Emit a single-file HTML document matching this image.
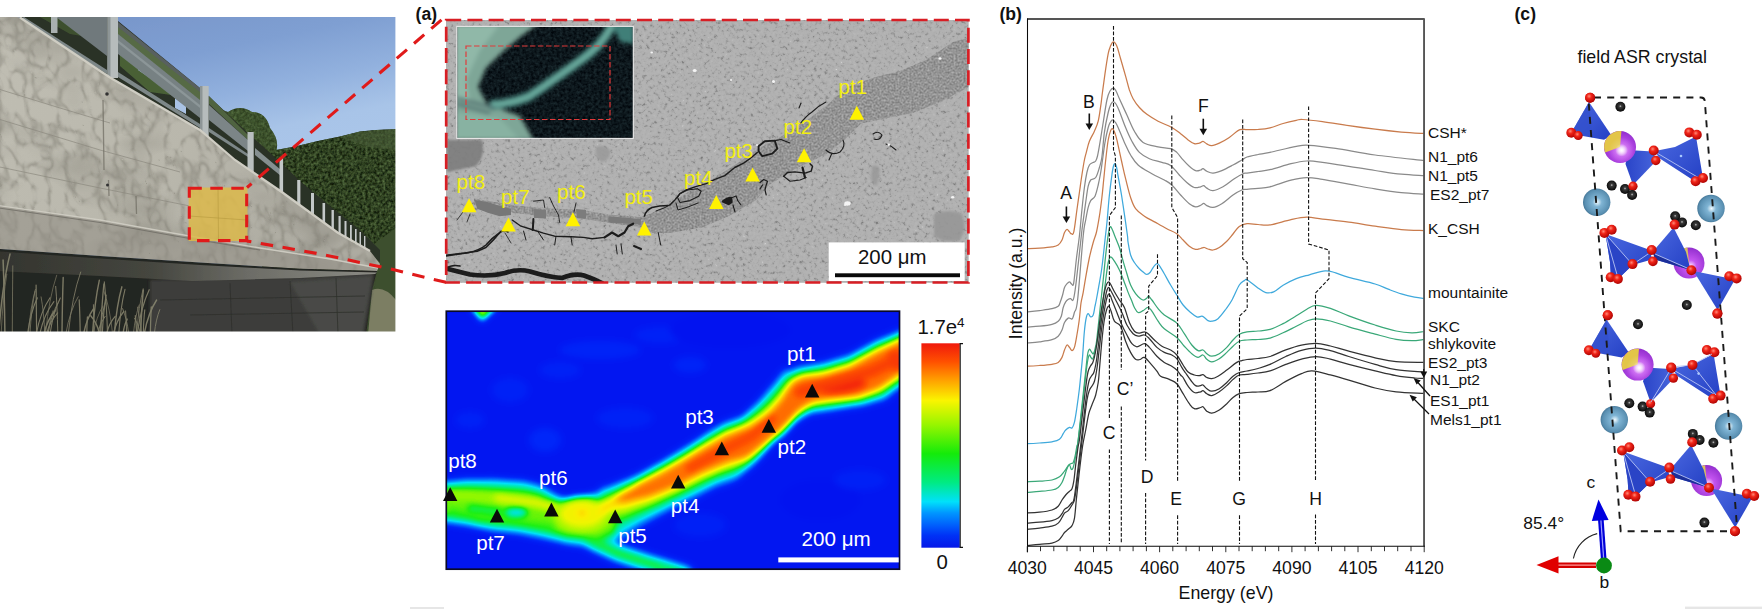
<!DOCTYPE html>
<html lang="en"><head><meta charset="utf-8"><title>Figure</title>
<style>html,body{margin:0;padding:0;background:#fff;overflow:hidden}svg{display:block}text{font-family:"Liberation Sans",sans-serif}</style></head><body>
<svg width="1762" height="609" viewBox="0 0 1762 609">
<rect width="1762" height="609" fill="#fff"/>
<defs>
<clipPath id="phclip"><rect x="0" y="17" width="395.4" height="314.5"/></clipPath>
<linearGradient id="sky" x1="0.25" y1="0" x2="0.5" y2="1"><stop offset="0" stop-color="#7795c9"/><stop offset="0.18" stop-color="#7f9fd2"/><stop offset="0.32" stop-color="#92b1de"/><stop offset="0.44" stop-color="#a8c4e8"/><stop offset="1" stop-color="#b5cef0"/></linearGradient>
<linearGradient id="conc" x1="0" y1="0" x2="1" y2="0.4"><stop offset="0" stop-color="#c0beb3"/><stop offset="0.6" stop-color="#b9b7ac"/><stop offset="1" stop-color="#adaba1"/></linearGradient>
<linearGradient id="under" x1="0" y1="0" x2="0" y2="1"><stop offset="0" stop-color="#77776f"/><stop offset="0.25" stop-color="#55554f"/><stop offset="0.5" stop-color="#2c2d2a"/><stop offset="1" stop-color="#232422"/></linearGradient>
<filter id="conctex" x="0" y="0" width="100%" height="100%" color-interpolation-filters="sRGB">
 <feTurbulence type="turbulence" baseFrequency="0.06 0.045" numOctaves="2" seed="4" result="n"/>
 <feComponentTransfer in="n" result="g"><feFuncR type="table" tableValues="1 0.6 0.18 0 0 0 0 0 0 0"/></feComponentTransfer>
 <feColorMatrix in="g" type="matrix" values="0 0 0 0 0.47  0 0 0 0 0.46  0 0 0 0 0.42  0.46 0 0 0 0" result="gg"/>
 <feComposite in="gg" in2="SourceGraphic" operator="in"/>
</filter>
<filter id="blotch" x="0" y="0" width="100%" height="100%" color-interpolation-filters="sRGB">
 <feTurbulence type="fractalNoise" baseFrequency="0.012 0.02" numOctaves="3" seed="12" result="n"/>
 <feColorMatrix in="n" type="matrix" values="0 0 0 0 0.44  0 0 0 0 0.43  0 0 0 0 0.39  0.8 0 0 0 -0.36" result="gg"/>
 <feComposite in="gg" in2="SourceGraphic" operator="in"/>
</filter>
<filter id="treetex" x="0" y="0" width="100%" height="100%" color-interpolation-filters="sRGB">
 <feTurbulence type="fractalNoise" baseFrequency="0.35" numOctaves="2" seed="9" result="n"/>
 <feColorMatrix in="n" type="matrix" values="0.5 0 0 0 -0.06  0.6 0 0 0 -0.04  0.4 0 0 0 -0.07  0 0 0 0 1" result="gg"/>
 <feComposite in="gg" in2="SourceGraphic" operator="in"/>
</filter>
<filter id="pb"><feGaussianBlur stdDeviation="0.7"/></filter>
<filter id="pb2"><feGaussianBlur stdDeviation="1.6"/></filter>
</defs>
<g clip-path="url(#phclip)"><g filter="url(#pb)">
<rect x="-5" y="10" width="405" height="330" fill="url(#sky)"/>
<path d="M262,150 L276,150 L295,146.5 L318,141 L340,136.5 L360,131.5 L376,130 L400,129 L400,290 L262,290 Z" fill="#2e3f27"/>
<path d="M262,150 L276,150 L295,146.5 L318,141 L340,136.5 L360,131.5 L376,130 L400,129 L400,290 L262,290 Z" fill="#2e3f27" filter="url(#treetex)" opacity="0.85"/>
<path d="M340,137 L360,132 L376,130.5 L400,129.5 L400,150 Q370,150 340,137 Z" fill="#4a5e38" opacity="0.6"/>
<path d="M366,250 L400,225 L400,335 L360,335 Z" fill="#3d4f2e"/>
<path d="M372,290 Q384,285 396,300 L396,335 L368,335 Z" fill="#8c8a72" opacity="0.8"/>
<path d="M205,118 Q215,106 228,112 Q240,104 252,112 Q266,112 270,128 Q280,140 276,152 L240,160 L205,140 Z" fill="#4a6238"/>
<path d="M205,118 Q215,106 228,112 Q240,104 252,112 Q266,112 270,128 Q280,140 276,152 L240,160 L205,140 Z" fill="#4a6238" filter="url(#treetex)" opacity="0.5"/>
<path d="M20,10 L110,10 L118,21 L200,88 L248,133 L278,160 L300,181 L330,206 L360,230 L380,250 L380,262 L355,243.7 L337.5,232.5 L312.5,213.7 L282.5,192.5 L252,172.5 L235,160 L200,130 L110,77.5 L20,17.5 Z" fill="#2a3026"/>
<path d="M120,40 L160,62 L178,96 L150,92 L120,66 Z" fill="#4e6a3a" opacity="0.85"/>
<path d="M40,17 L90,17 L104,40 L70,34 Z" fill="#3f5630" opacity="0.85"/>
<path d="M82,17 L92,17 L98,30 L88,28 Z M138,60 L150,68 L150,78 L138,70 Z M175,98 L186,106 L186,114 L175,108 Z" fill="#a9c2e4"/>
<path d="M56,17 L107,17 L107,56 Z" fill="#6f797b"/>
<path d="M118,24 L200,91 L200,101 L118,36 Z" fill="#566a45"/>
<path d="M118,34 L200,100 L200,118 L118,54 Z" fill="#778183"/>
<path d="M118,40 L200,105 L200,108 L118,43 Z" fill="#8c9698"/>
<path d="M118,22 L200,88 L200,92 L118,27 Z" fill="#59605f"/>
<path d="M209,96 L248,135 L248,140 L209,104 Z" fill="#4f6340"/>
<path d="M209,105 L248,140 L248,151 L209,120 Z" fill="#7b8587"/>
<path d="M255,148 L281,170 L281,176 L255,155 Z" fill="#858f90"/>
<path d="M24,17 L107,70 L107,74 L20,19 Z" fill="#7d8788"/>
<path d="M118,72 L200,124 L200,128 L118,77 Z" fill="#7d8788"/>
<path d="M209,128 L248,154 L248,157 L209,132 Z" fill="#7d8788"/>
<rect x="107.5" y="17" width="10.5" height="61" fill="#b6bcbc"/><rect x="107.5" y="17" width="3" height="61" fill="#8d9596"/>
<rect x="51" y="17" width="6.5" height="16" fill="#a9b0b0"/>
<rect x="200" y="86" width="8.7" height="55" fill="#b6bcbc"/><rect x="200" y="86" width="2.5" height="55" fill="#8d9596"/>
<rect x="247.5" y="132" width="6.2" height="40" fill="#b9bfbf"/>
<rect x="279.5" y="158" width="3.6" height="37" fill="#c3c8c8"/>
<rect x="297.2" y="180" width="3.2" height="27" fill="#c3c8c8"/>
<rect x="311" y="193" width="3" height="23" fill="#c3c8c8"/>
<rect x="322.5" y="203" width="2.6" height="20" fill="#c3c8c8"/>
<rect x="331.5" y="210" width="2.4" height="19" fill="#c3c8c8"/>
<rect x="338.5" y="216" width="2.2" height="18" fill="#c3c8c8"/>
<rect x="344.5" y="221" width="2" height="17" fill="#c3c8c8"/>
<rect x="350" y="225" width="1.8" height="17" fill="#c3c8c8"/>
<rect x="355" y="229" width="1.6" height="16" fill="#c3c8c8"/>
<rect x="359.5" y="232" width="1.5" height="16" fill="#c3c8c8"/>
<rect x="364" y="236" width="1.4" height="15" fill="#c3c8c8"/>
<path d="M-5,14 L20,17.5 L110,77.5 L200,130 L235,160 L252,172.5 L282.5,192.5 L312.5,213.7 L337.5,232.5 L355,243.7 L370,251 L380,264 L377,271 L300,268.7 L200,262.5 L100,256 L-5,248.5 Z" fill="url(#conc)"/>
<clipPath id="wallclip"><path d="M-5,14 L20,17.5 L110,77.5 L200,130 L235,160 L252,172.5 L282.5,192.5 L312.5,213.7 L337.5,232.5 L355,243.7 L370,251 L380,264 L377,271 L300,268.7 L200,262.5 L100,256 L-5,248.5 Z"/></clipPath>
<g clip-path="url(#wallclip)"><rect x="-10" y="-120" width="420" height="420" fill="#000" filter="url(#blotch)"/><rect x="-10" y="-120" width="420" height="420" fill="#000" filter="url(#conctex)" transform="skewY(16)"/></g>
<path d="M20,17.5 L110,77.5 L200,130 L235,160 L282.5,192.5 L337.5,232.5 L370,251" fill="none" stroke="#cfcdc3" stroke-width="2.2"/>
<path d="M-5,205 L100,220 L175,233.5 L260,248 L330,259 L378,268 L377,271 L300,268.7 L200,262.5 L100,256 L-5,248.5 Z" fill="#8f8d84" opacity="0.55"/>
<path d="M-5,205 L100,220 L175,233.5 L260,248 L330,259 L378,268" fill="none" stroke="#d0cec4" stroke-width="1.3" opacity="0.9"/>
<path d="M-5,207.5 L100,222.5 L175,236 L260,250" fill="none" stroke="#6e6c64" stroke-width="1.1" opacity="0.8"/>
<path d="M-5,88 L60,108 L110,123 M-5,118 L100,150 L180,172 M-5,166 L100,188 L190,206" fill="none" stroke="#8b897f" stroke-width="1" opacity="0.7"/>
<path d="M103,100 L104,170 M108.5,180 L109,196 M136,196 L136.5,214" fill="none" stroke="#6c6a60" stroke-width="1.3" opacity="0.7"/>
<circle cx="107" cy="94" r="1.8" fill="#333"/><circle cx="107.5" cy="185" r="1.5" fill="#333"/>
<path d="M-5,248.5 L100,256 L200,262.5 L300,268.7 L377,271 L372,290 L366,335 L-5,335 Z" fill="#242521"/>
<path d="M150,280 L300,277 L374,273 L370,300 L364,335 L150,335 Z" fill="#3c3d3a" filter="url(#pb2)"/>
<path d="M290,282 L372,276 L368,300 L362,335 L320,335 Z" fill="#4c4d49" opacity="0.8" filter="url(#pb2)"/>
<defs><linearGradient id="soff" gradientUnits="userSpaceOnUse" x1="0" y1="0" x2="380" y2="0"><stop offset="0" stop-color="#34352f"/><stop offset="0.4" stop-color="#45463f"/><stop offset="0.65" stop-color="#6c6c66"/><stop offset="1" stop-color="#8c8c85"/></linearGradient></defs>
<path d="M-5,251 L100,258.5 L200,265 L300,270.5 L377,272.5 L375,274 L300,278 L192,281 L100,276 L-5,271 Z" fill="url(#soff)"/>
<path d="M160,300 L365,296 M190,315 L364,312 M230,283 L232,335 M290,281 L293,335 M336,278 L338,335" stroke="#2c2d2a" stroke-width="1" fill="none" opacity="0.7"/>
<g fill="none" stroke="#918f76" stroke-linecap="round" opacity="0.8">
<path d="M36.6,333 Q36.4,304.2 36.1,285.0" stroke-width="1.2"/>
<path d="M99.4,333 Q96.8,322.6 90.7,315.7" stroke-width="1.4"/>
<path d="M40.0,333 Q44.2,314.2 53.9,301.7" stroke-width="1.1"/>
<path d="M133.5,333 Q135.2,316.2 139.2,304.9" stroke-width="0.8"/>
<path d="M100.8,333 Q101.8,303.5 103.9,283.8" stroke-width="1.3"/>
<path d="M106.8,333 Q109.3,323.0 115.2,316.4" stroke-width="1.2"/>
<path d="M46.8,333 Q50.1,320.9 57.7,312.9" stroke-width="1.1"/>
<path d="M114.4,333 Q116.7,305.3 121.9,286.8" stroke-width="1.4"/>
<path d="M62.0,333 Q62.4,299.7 63.2,277.4" stroke-width="1.4"/>
<path d="M140.4,333 Q138.6,324.1 134.5,318.2" stroke-width="0.9"/>
<path d="M154.4,333 Q156.0,319.0 159.8,309.6" stroke-width="0.9"/>
<path d="M80.2,333 Q79.9,313.1 79.2,299.9" stroke-width="1.2"/>
<path d="M92.6,333 Q94.7,301.4 99.3,280.3" stroke-width="1.4"/>
<path d="M136.7,333 Q138.7,306.4 143.2,288.7" stroke-width="0.8"/>
<path d="M137.4,333 Q141.0,307.0 149.2,289.7" stroke-width="1.2"/>
<path d="M113.6,333 Q116.7,320.1 123.8,311.5" stroke-width="1.2"/>
<path d="M44.2,333 Q47.4,319.8 54.8,311.0" stroke-width="1.5"/>
<path d="M12.3,333 Q12.5,292.7 12.8,265.8" stroke-width="0.8"/>
<path d="M45.6,333 Q48.9,298.3 56.7,275.2" stroke-width="0.7"/>
<path d="M97.6,333 Q99.8,323.0 105.1,316.3" stroke-width="1.0"/>
<path d="M140.7,333 Q141.5,307.2 143.3,290.1" stroke-width="1.5"/>
<path d="M48.2,333 Q49.6,319.6 53.0,310.7" stroke-width="0.7"/>
<path d="M30.0,333 Q31.5,307.9 35.0,291.2" stroke-width="0.8"/>
<path d="M4.9,333 Q4.3,289.3 3.1,260.1" stroke-width="1.5"/>
<path d="M143.3,333 Q143.7,319.0 144.8,309.7" stroke-width="1.1"/>
<path d="M102.3,333 Q103.5,310.2 106.2,295.0" stroke-width="1.2"/>
<path d="M150.4,333 Q150.7,317.3 151.3,306.9" stroke-width="1.3"/>
<path d="M36.5,333 Q40.5,311.9 50.0,297.8" stroke-width="1.1"/>
<path d="M86.8,333 Q87.0,323.3 87.4,316.9" stroke-width="1.2"/>
<path d="M1.2,333 Q2.9,297.8 6.8,274.3" stroke-width="0.7"/>
<path d="M99.6,333 Q101.6,313.0 106.3,299.6" stroke-width="1.0"/>
<path d="M112.5,333 Q110.0,308.1 104.0,291.6" stroke-width="0.7"/>
<path d="M107.5,333 Q106.5,302.3 104.3,281.8" stroke-width="1.1"/>
<path d="M94.0,333 Q93.8,316.0 93.4,304.7" stroke-width="1.0"/>
<path d="M57.8,333 Q57.2,305.0 55.7,286.4" stroke-width="1.0"/>
<path d="M123.1,333 Q124.3,324.6 127.2,319.1" stroke-width="1.3"/>
<path d="M48.2,333 Q51.1,315.2 57.7,303.3" stroke-width="0.9"/>
<path d="M28.4,333 Q30.5,306.9 35.4,289.4" stroke-width="0.8"/>
<path d="M50.2,333 Q53.2,312.0 60.3,298.0" stroke-width="1.1"/>
<path d="M136.6,333 Q136.2,322.5 135.3,315.5" stroke-width="1.2"/>
<path d="M141.4,333 Q140.2,317.4 137.5,307.1" stroke-width="0.8"/>
<path d="M83.8,333 Q86.7,318.5 93.4,308.9" stroke-width="1.4"/>
<path d="M27.7,333 Q30.6,311.9 37.3,297.9" stroke-width="1.2"/>
<path d="M128.6,333 Q126.8,318.4 122.6,308.6" stroke-width="0.9"/>
<path d="M126.6,333 Q126.3,319.7 125.6,310.9" stroke-width="1.0"/>
<path d="M66.0,333 Q69.7,311.2 78.2,296.7" stroke-width="0.8"/>
<path d="M-1.2,333 Q2.1,285.6 10.0,254.1" stroke-width="1.5"/>
<path d="M68.4,333 Q72.1,296.4 80.7,272.0" stroke-width="0.9"/>
<path d="M118.8,333 Q120.6,306.8 125.0,289.4" stroke-width="1.1"/>
<path d="M44.8,333 Q43.7,311.3 41.1,296.9" stroke-width="0.8"/>
<path d="M93.4,333 Q96.3,316.8 103.0,306.0" stroke-width="0.7"/>
<path d="M144.4,333 Q148.1,313.2 156.6,300.0" stroke-width="1.4"/>
</g>
</g>
<rect x="188.7" y="187.5" width="58.8" height="53.5" fill="#dcb94c" opacity="0.86"/>
<path d="M218,188 L218.5,241 M189,216 L247,220" stroke="#b59a3e" stroke-width="1" opacity="0.6" fill="none"/>
</g>
<rect x="189.3" y="188.2" width="57.4" height="52.4" fill="none" stroke="#e01a1a" stroke-width="3.1" stroke-dasharray="12.5 8.5"/>
<path d="M441.5,19.8 L247,187.5" stroke="#e01a1a" stroke-width="3.1" stroke-dasharray="13.5 9.3" fill="none"/>
<path d="M446,282.2 L430,278.7 L390,268.8 L320,254 L247,241" stroke="#e01a1a" stroke-width="3.1" stroke-dasharray="12.5 9.6" fill="none"/>
<defs>
<filter id="semtex" x="0" y="0" width="100%" height="100%" color-interpolation-filters="sRGB">
 <feTurbulence type="fractalNoise" baseFrequency="0.28" numOctaves="3" seed="7" result="n"/>
 <feComponentTransfer in="n" result="g"><feFuncR type="table" tableValues="0.44 0.48 0.54 0.62 0.675 0.695 0.70 0.705 0.72 0.78 0.9"/></feComponentTransfer>
 <feColorMatrix in="g" type="matrix" values="1 0 0 0 0  1 0 0 0 0  1 0 0 0 0  0 0 0 0 1" result="gg"/>
 <feComposite in="gg" in2="SourceGraphic" operator="in"/>
</filter>
<filter id="veintex" x="0" y="0" width="100%" height="100%" color-interpolation-filters="sRGB">
 <feTurbulence type="fractalNoise" baseFrequency="0.5" numOctaves="2" seed="11" result="n"/>
 <feColorMatrix in="n" type="matrix" values="0.34 0 0 0 0.41  0.34 0 0 0 0.41  0.34 0 0 0 0.41  0 0 0 0 1" result="gg"/>
 <feComposite in="gg" in2="SourceGraphic" operator="in"/>
</filter>
<filter id="insettex" x="0" y="0" width="100%" height="100%" color-interpolation-filters="sRGB">
 <feTurbulence type="fractalNoise" baseFrequency="0.35" numOctaves="2" seed="5" result="n"/>
 <feColorMatrix in="n" type="matrix" values="0.16 0 0 0 -0.03  0.22 0 0 0 -0.02  0.22 0 0 0 0.0  0 0 0 0 1" result="gg"/>
 <feComposite in="gg" in2="SourceGraphic" operator="in"/>
</filter>
<filter id="b1"><feGaussianBlur stdDeviation="1"/></filter>
<filter id="b2"><feGaussianBlur stdDeviation="2.2"/></filter>
<filter id="b05"><feGaussianBlur stdDeviation="0.5"/></filter>
<clipPath id="semclip"><rect x="446" y="20" width="522.4" height="262.5"/></clipPath>
<clipPath id="insclip"><rect x="457.3" y="26.8" width="175.6" height="111.2"/></clipPath>
</defs>
<g clip-path="url(#semclip)">
<rect x="446" y="20" width="523" height="263" fill="#a9a9a9"/>
<rect x="446" y="20" width="523" height="263" fill="#a9a9a9" filter="url(#semtex)"/>
<g filter="url(#b1)" opacity="0.9">
<path d="M934,214 Q948,208 962,214 Q968,228 960,240 Q944,244 934,236 Z" fill="#979797"/>
<path d="M872,166 Q878,164 880,170 L877,186 Q871,184 871,176 Z" fill="#9a9a9a"/>
<path d="M596,147 Q604,144 610,150 Q611,160 602,162 Q594,158 596,147 Z" fill="#9b9b9b"/>
<path d="M447,140 L482,140 Q486,155 476,166 L447,172 Z" fill="#7d7d7d"/>
</g>
<path d="M969,38 L953,42 L926,60 L900,71 L874,77.5 L848,87 L827,105 L803,123.5 L777,139 L756,150 L737,163.6 L716,177 L700,186 L690,191 L670,203 L650,214 L640,217 L609,214.5 L581,210 L541,208 L515,205.5 L489,201 L474,198.5 L474,205 L489,208.5 L515,213 L541,216 L581,218.5 L609,223 L640,227 L652,233 L670,233 L690,229.5 L703,227 L729,216 L756,200 L769,185 L795,169 L816,159 L832,150 L848,136.6 L861,123.5 L887,118 L913,113 L940,102 L969,87 Z" fill="#8c8c8c" filter="url(#veintex)"/>
<g filter="url(#b05)"><path d="M474.7,200 L487.2,201.9 L501,206.2 L511,208.7 L511,215 L499.7,216.2 L487.2,212.5 L477.2,208.7 Z" fill="#777"/><path d="M533.5,209 L546,210 L546,218.5 L534,218 Z" fill="#7b7b7b"/><path d="M576,209 L586,210 L586,218.5 L577,218 Z" fill="#7b7b7b"/><path d="M608.4,216.2 L640.9,219 L640.9,224.5 L608.4,222.5 Z" fill="#7a7a7a"/></g>
<g fill="none" stroke="#1c1c1c" stroke-linecap="round" stroke-linejoin="round" filter="url(#b05)">
<path d="M446,268.5 Q460,272 470,274.5 Q490,277 505,273 Q518,268.5 530,271.5 Q548,277 562,278 Q575,273 584,275.5 Q594,279 602,283" stroke-width="4.6"/>
<path d="M446,256 Q458,254 468,252.8 Q480,250 486,245 Q492,238 500,232.5 Q504,229 508,232" stroke-width="1.6"/>
<path d="M446,268.5 Q452,264 460,266" stroke-width="1.5"/>
<path d="M512.2,220 L521,226.2 L533.4,230 L543.4,233.1 L554.6,236.2 L570.9,236.8 L583.3,237.4 L592.1,238.7 L604.6,237.4" stroke-width="1.4"/>
<path d="M604.6,237.4 L612,232.5 L618.3,236.2 L624.5,232.5 L628.2,226.2 L633.2,223.7" stroke-width="2.2"/>
<path d="M533.4,219 L532.8,230" stroke-width="2"/>
<path d="M500.9,231.2 L493.4,240 L485.9,247.5 L477.2,251.2 L464.7,253.1 L446,255.3" stroke-width="1.5"/>
<path d="M644.5,216 Q646,210 652,207.5 Q659,205.5 668,205.5" stroke-width="1.6"/>
<path d="M658.2,232.5 L660.7,245 M523.5,231 L526,240 M538.5,232.5 L543.5,240 M556,236.2 L554.7,245 M571,237.5 L572.2,245 M616,245 L617.2,254 M621,244 L622.3,254" stroke-width="1"/>
<path d="M533.5,201.2 L543.5,200 L544.7,207.5 M549.7,197.5 L553.5,206 L558.5,215 L559.7,222.5 M576,203 L574,212" stroke-width="0.9"/>
<path d="M463,212 L457,220 M470,214 L467,222 M505,233 L511,243" stroke-width="0.8"/>
<path d="M634,246 L641,249" stroke-width="2"/>
<path d="M669.9,204.9 L674.9,199.9 L679.9,193.7 L686.1,190 L694.9,186.8 L706.1,183.7 L714.9,179.3 L724.8,175.6 L734.8,167.5 L743.6,163.1 L749.8,158.7 L757.3,152.5" stroke-width="1.4"/>
<path d="M758.6,146.2 L764.8,141.2 L774.8,140.6 L777.3,148.7 L772.3,153.7 L762.3,156.2 L758.6,151.2 Z" stroke-width="1.9"/>
<path d="M774.8,140.6 L781,139.5 L786,141.5 L790,143" stroke-width="1.2"/>
<path d="M679.9,193.7 L687.5,190 L697.5,188.7 L701.2,191.2 L698.7,196.2 L690,200.6 L680,202.5 L677.5,197.5 Z" stroke-width="1.1"/>
<path d="M669.9,204.9 L664,208 L656,211 M676,203 L678,210 L688,207 L698,203" stroke-width="1"/>
<path d="M723,201.5 Q727,198 731,198 L731.5,202 L728.5,204 Z" stroke-width="2.4" fill="#1c1c1c"/>
<path d="M731,198 L736,196 L738,201 L741,205 M733,205 L735,212" stroke-width="1.1"/>
<path d="M760,182.5 L763.7,179.5 L767.5,181.2 L766.2,185 L765,190 L766.2,195 M762.5,185 L760,189" stroke-width="1.2"/>
<path d="M783.7,176.2 L787.5,172.5 L795,171.9 L805,173.1 L811.2,171.2 L812.5,166.2 L810,163.7" stroke-width="1.4"/>
<path d="M783.7,176.2 L790,181.2 L800,180 L806.2,177.5" stroke-width="1.1"/>
<path d="M802.5,167.5 L805,177.5" stroke-width="2.2"/>
<path d="M826,150 Q832,156 840,152 Q846,146 843,140 M832,153 L829,160" stroke-width="1.1"/>
<path d="M800,124 Q806,116 812,112 Q818,106 826,102 M799,108 L801,103" stroke-width="1.1"/>
<path d="M873,134 Q878,130 882,135 Q880,141 874,139 M886,144 Q892,146 896,150" stroke-width="1.1"/>
</g>
<ellipse cx="847.5" cy="203.5" rx="3.2" ry="2.2" fill="#f4f4f4"/>
<ellipse cx="694.7" cy="70.5" rx="2" ry="1.5" fill="#f4f4f4"/>
<ellipse cx="773.5" cy="81.5" rx="1.5" ry="1.5" fill="#f4f4f4"/>
<ellipse cx="940" cy="58.5" rx="1.5" ry="1.2" fill="#f4f4f4"/>
<ellipse cx="888.8" cy="144.8" rx="1.3" ry="1.3" fill="#f4f4f4"/>
<ellipse cx="952.7" cy="197.3" rx="1.6" ry="1.2" fill="#f4f4f4"/>
<ellipse cx="651.7" cy="52.5" rx="1.3" ry="1.1" fill="#f4f4f4"/>
<ellipse cx="845" cy="205" rx="1" ry="1" fill="#f4f4f4"/>
<ellipse cx="757" cy="145" rx="1" ry="1" fill="#f4f4f4"/>
<ellipse cx="731" cy="80" rx="1" ry="1" fill="#f4f4f4"/>
<g clip-path="url(#insclip)">
<rect x="457" y="26" width="177" height="113" fill="#0d1a20"/>
<rect x="457" y="26" width="177" height="113" fill="#0d1a20" filter="url(#insettex)"/>
<g filter="url(#b2)">
<path d="M455,24 L538,24 L520,37 L502,52.5 L486,68 L478,87 L487,104 L520,116 L533.5,140 L455,140 Z" fill="#7ea697"/>
<path d="M455,24 L500,24 L480,50 L466,80 L470,100 L455,100 Z" fill="#9cc4b4" opacity="0.6"/>
<path d="M455,112 L500,118 L520,140 L455,140 Z" fill="#8db8a6" opacity="0.7"/>
<path d="M490,105 Q510,104 528,97 Q545,86 555,78.5 Q570,68 581,60 Q592,52 599,44.5 Q607,35 613,24" fill="none" stroke="#3d7a74" stroke-width="10"/>
<path d="M490,105 Q510,104 528,97 Q545,86 555,78.5 Q570,68 581,60 Q592,52 599,44.5 Q607,35 613,24" fill="none" stroke="#6cab9e" stroke-width="5"/>
<path d="M612,24 L634,24 L634,44 L620,42 Z" fill="#3f7f78"/>
<path d="M457,98 Q475,103 495,108 M457,104 Q475,109 490,113" fill="none" stroke="#39505c" stroke-width="2.2"/>
</g>
<rect x="466" y="46" width="144" height="73.5" fill="none" stroke="#e23a3a" stroke-width="1.2" stroke-dasharray="5.5 2.5"/>
</g>
<rect x="456.8" y="26.4" width="176.5" height="112" fill="none" stroke="#e8e8e8" stroke-width="1.1"/>
<rect x="828.7" y="242.4" width="136" height="38.6" fill="#fff"/>
<text x="892.2" y="263.8" font-size="20.4" text-anchor="middle" font-family="Liberation Sans, sans-serif" fill="#111">200 μm</text>
<rect x="835" y="273.3" width="125" height="3.9" fill="#0a0a0a"/>
</g>
<path d="M856.8,105.7 l7.3,14 h-14.6 Z" fill="#fff200"/>
<path d="M804.1,148.3 l7.3,14 h-14.6 Z" fill="#fff200"/>
<path d="M752.6,167.6 l7.3,14 h-14.6 Z" fill="#fff200"/>
<path d="M716.3,195.1 l7.3,14 h-14.6 Z" fill="#fff200"/>
<path d="M644.3,221.6 l7.3,14 h-14.6 Z" fill="#fff200"/>
<path d="M572.9,212.3 l7.3,14 h-14.6 Z" fill="#fff200"/>
<path d="M508.5,217.6 l7.3,14 h-14.6 Z" fill="#fff200"/>
<path d="M469.1,198.2 l7.3,14 h-14.6 Z" fill="#fff200"/>
<text x="838.6" y="94.2" font-size="20.6" font-family="Liberation Sans, sans-serif" fill="#f2ee10">pt1</text>
<text x="783.6" y="133.6" font-size="20.6" font-family="Liberation Sans, sans-serif" fill="#f2ee10">pt2</text>
<text x="724.4" y="157.6" font-size="20.6" font-family="Liberation Sans, sans-serif" fill="#f2ee10">pt3</text>
<text x="684" y="184.6" font-size="20.6" font-family="Liberation Sans, sans-serif" fill="#f2ee10">pt4</text>
<text x="624.4" y="203.6" font-size="20.6" font-family="Liberation Sans, sans-serif" fill="#f2ee10">pt5</text>
<text x="557" y="199.4" font-size="20.6" font-family="Liberation Sans, sans-serif" fill="#f2ee10">pt6</text>
<text x="501" y="204.4" font-size="20.6" font-family="Liberation Sans, sans-serif" fill="#f2ee10">pt7</text>
<text x="456.6" y="188.5" font-size="20.6" font-family="Liberation Sans, sans-serif" fill="#f2ee10">pt8</text>
<rect x="446.2" y="20" width="522.2" height="262.5" fill="none" stroke="#d81e24" stroke-width="2.7" stroke-dasharray="15 6.2"/>
<text x="415.6" y="19.6" font-size="17.6" font-weight="bold" font-family="Liberation Sans, sans-serif" fill="#111">(a)</text>
<defs>
<filter id="jet" x="0" y="0" width="100%" height="100%" color-interpolation-filters="sRGB">
<feGaussianBlur stdDeviation="3.4"/>
<feComponentTransfer><feFuncR type="table" tableValues="0.016 0.013 0.009 0.006 0.003 0.000 0.000 0.000 0.000 0.000 0.000 0.000 0.000 0.000 0.000 0.000 0.000 0.000 0.000 0.000 0.000 0.000 0.029 0.059 0.088 0.118 0.235 0.353 0.471 0.588 0.675 0.763 0.850 0.937 0.982 0.986 0.989 0.993 0.996 1.000 1.000 1.000 1.000 1.000 1.000 0.992 0.983 0.975 0.966 0.958 0.949"/><feFuncG type="table" tableValues="0.039 0.063 0.086 0.110 0.133 0.157 0.216 0.275 0.333 0.392 0.451 0.510 0.584 0.659 0.733 0.808 0.882 0.893 0.903 0.913 0.923 0.933 0.935 0.937 0.939 0.941 0.949 0.957 0.965 0.973 0.970 0.967 0.965 0.962 0.932 0.875 0.818 0.761 0.704 0.647 0.584 0.522 0.459 0.396 0.333 0.296 0.259 0.222 0.184 0.147 0.110"/><feFuncB type="table" tableValues="0.925 0.936 0.947 0.958 0.969 0.980 0.984 0.987 0.990 0.993 0.997 1.000 0.996 0.992 0.988 0.984 0.980 0.894 0.808 0.722 0.635 0.549 0.431 0.314 0.196 0.078 0.059 0.039 0.020 0.000 0.000 0.000 0.000 0.000 0.000 0.000 0.000 0.000 0.000 0.000 0.000 0.000 0.000 0.000 0.000 0.009 0.018 0.027 0.037 0.046 0.055"/></feComponentTransfer>
</filter>
<clipPath id="hclip"><rect x="446.3" y="311.2" width="453.2" height="258.00000000000006"/></clipPath>
<linearGradient id="cbar" x1="0" y1="1" x2="0" y2="0">
<stop offset="0.000" stop-color="rgb(6,24,232)"/>
<stop offset="0.060" stop-color="rgb(0,50,246)"/>
<stop offset="0.110" stop-color="rgb(0,95,252)"/>
<stop offset="0.170" stop-color="rgb(0,150,255)"/>
<stop offset="0.225" stop-color="rgb(0,225,250)"/>
<stop offset="0.320" stop-color="rgb(0,235,130)"/>
<stop offset="0.460" stop-color="rgb(20,235,10)"/>
<stop offset="0.600" stop-color="rgb(150,245,0)"/>
<stop offset="0.720" stop-color="rgb(250,245,0)"/>
<stop offset="0.820" stop-color="rgb(255,160,0)"/>
<stop offset="0.910" stop-color="rgb(255,80,0)"/>
<stop offset="1.000" stop-color="rgb(240,25,12)"/>
</linearGradient></defs>
<g clip-path="url(#hclip)">
<g filter="url(#jet)" style="isolation:isolate">
<rect x="416.3" y="281.2" width="513.2" height="318.00000000000006" fill="rgb(11,11,11)"/>
<ellipse cx="600" cy="350" rx="40" ry="9" fill="rgb(22,22,22)"/>
<ellipse cx="510" cy="390" rx="18" ry="12" fill="rgb(20,20,20)"/>
<ellipse cx="660" cy="335" rx="25" ry="8" fill="rgb(20,20,20)"/>
<ellipse cx="545" cy="440" rx="16" ry="12" fill="rgb(24,24,24)"/>
<ellipse cx="730" cy="330" rx="60" ry="18" fill="rgb(8,8,8)"/>
<ellipse cx="820" cy="500" rx="40" ry="20" fill="rgb(8,8,8)"/>
<ellipse cx="700" cy="525" rx="26" ry="12" fill="rgb(19,19,19)"/>
<ellipse cx="470" cy="420" rx="14" ry="8" fill="rgb(20,20,20)"/>
<ellipse cx="860" cy="480" rx="26" ry="10" fill="rgb(19,19,19)"/>
<ellipse cx="625" cy="418" rx="28" ry="10" fill="rgb(20,20,20)"/>
<ellipse cx="560" cy="370" rx="20" ry="8" fill="rgb(20,20,20)"/>
<ellipse cx="690" cy="365" rx="16" ry="8" fill="rgb(22,22,22)"/>
<path d="M572,530 L596,543 L618.7,553.5 L644.9,562 L663.3,567.5 L684,574" fill="none" stroke="rgb(74,74,74)" stroke-width="19" stroke-linecap="round"/>
<path d="M572,530 L596,543 L618.7,553.5 L644.9,562 L663.3,567.5 L684,574" fill="none" stroke="rgb(120,120,120)" stroke-width="10.5" stroke-linecap="round"/>
<polygon points="436.0,481.0 441.0,480.8 446.0,480.7 451.0,480.3 456.0,479.8 461.0,479.3 466.0,478.8 471.0,478.7 476.0,478.7 481.0,478.7 486.0,478.7 491.0,478.6 496.0,478.8 501.0,479.1 506.0,479.4 511.0,479.7 516.0,480.0 521.0,480.2 526.0,480.9 531.0,482.2 536.0,483.4 541.0,485.1 546.0,488.1 551.0,491.1 556.0,494.0 561.0,495.9 566.0,497.8 571.0,497.2 576.0,496.5 581.0,495.8 586.0,495.1 591.0,493.6 596.0,491.9 601.0,490.2 606.0,488.4 611.0,486.5 616.0,484.6 616.0,541.4 611.0,544.1 606.0,546.8 601.0,549.6 596.0,550.8 591.0,548.9 586.0,547.2 581.0,546.6 576.0,545.9 571.0,545.3 566.0,544.6 561.0,543.3 556.0,542.1 551.0,540.9 546.0,539.7 541.0,538.7 536.0,537.7 531.0,536.7 526.0,535.7 521.0,534.7 516.0,534.0 511.0,533.5 506.0,533.0 501.0,532.5 496.0,532.0 491.0,531.4 486.0,530.3 481.0,529.3 476.0,528.2 471.0,527.2 466.0,526.2 461.0,525.5 456.0,524.8 451.0,524.1 446.0,523.5 441.0,523.2 436.0,523.0" fill="rgb(76,76,76)" style="mix-blend-mode:lighten"/>
<polygon points="436.0,485.6 441.0,485.5 446.0,485.4 451.0,485.1 456.0,484.7 461.0,484.3 466.0,484.0 471.0,484.1 476.0,484.1 481.0,484.2 486.0,484.3 491.0,484.4 496.0,484.7 501.0,485.0 506.0,485.3 511.0,485.6 516.0,485.9 521.0,486.2 526.0,486.9 531.0,488.1 536.0,489.4 541.0,491.0 546.0,493.8 551.0,496.6 556.0,499.3 561.0,501.1 566.0,503.0 571.0,502.5 576.0,501.9 581.0,501.4 586.0,500.8 591.0,499.7 596.0,498.4 601.0,496.7 606.0,494.8 611.0,492.8 616.0,490.9 616.0,535.1 611.0,537.8 606.0,540.4 601.0,543.1 596.0,544.4 591.0,542.8 586.0,541.5 581.0,541.0 576.0,540.5 571.0,540.0 566.0,539.5 561.0,538.1 556.0,536.8 551.0,535.4 546.0,534.0 541.0,532.8 536.0,531.8 531.0,530.7 526.0,529.7 521.0,528.8 516.0,528.1 511.0,527.6 506.0,527.1 501.0,526.7 496.0,526.2 491.0,525.6 486.0,524.7 481.0,523.7 476.0,522.8 471.0,521.9 466.0,521.0 461.0,520.4 456.0,519.9 451.0,519.3 446.0,518.8 441.0,518.6 436.0,518.4" fill="rgb(117,117,117)" style="mix-blend-mode:lighten"/>
<polygon points="436.0,489.6 441.0,489.5 446.0,489.5 451.0,489.2 456.0,489.0 461.0,488.7 466.0,488.5 471.0,488.7 476.0,488.9 481.0,489.1 486.0,489.2 491.0,489.4 496.0,489.7 501.0,490.0 506.0,490.4 511.0,490.7 516.0,491.0 521.0,491.4 526.0,492.1 531.0,493.3 536.0,494.5 541.0,496.1 546.0,498.7 551.0,501.3 556.0,503.9 561.0,505.6 566.0,507.4 571.0,507.0 576.0,506.6 581.0,506.2 586.0,505.8 591.0,504.9 596.0,504.0 601.0,502.4 606.0,500.3 611.0,498.3 616.0,496.3 616.0,529.7 611.0,532.3 606.0,534.9 601.0,537.4 596.0,538.7 591.0,537.6 586.0,536.5 581.0,536.2 576.0,535.8 571.0,535.4 566.0,535.0 561.0,533.6 556.0,532.2 551.0,530.7 546.0,529.1 541.0,527.7 536.0,526.6 531.0,525.5 526.0,524.5 521.0,523.6 516.0,522.9 511.0,522.5 506.0,522.0 501.0,521.6 496.0,521.1 491.0,520.6 486.0,519.7 481.0,518.9 476.0,518.1 471.0,517.3 466.0,516.5 461.0,516.0 456.0,515.6 451.0,515.1 446.0,514.7 441.0,514.6 436.0,514.4" fill="rgb(140,140,140)" style="mix-blend-mode:lighten"/>
<ellipse cx="516" cy="512.5" rx="11" ry="3.6" fill="rgb(69,69,69)"/>
<path d="M470,508 L500,512" stroke="rgb(107,107,107)" stroke-width="5" stroke-linecap="round"/>
<path d="M452,494 L480,496 L503,498.5 L535,502 L560,508" fill="none" stroke="rgb(148,148,148)" stroke-width="12" stroke-linecap="round" stroke-linejoin="round"/>
<path d="M498,498 L535,502.5 L560,509" fill="none" stroke="rgb(167,167,167)" stroke-width="7" stroke-linecap="round"/>
<ellipse cx="582" cy="515" rx="29" ry="19" fill="rgb(153,153,153)"/>
<ellipse cx="582" cy="514" rx="22" ry="13" fill="rgb(170,170,170)"/>
<ellipse cx="582" cy="513" rx="4" ry="2.5" fill="rgb(191,191,191)"/>
<path d="M452,512 L480,520 L520,524 L550,528" fill="none" stroke="rgb(128,128,128)" stroke-width="8" stroke-linecap="round"/>
<polygon points="600.0,487.5 604.0,486.3 608.0,485.2 612.0,483.8 616.0,482.2 620.0,480.6 624.0,479.0 628.0,477.4 632.0,475.7 636.0,474.0 640.0,471.9 644.0,469.7 648.0,467.5 652.0,465.3 656.0,463.1 660.0,460.9 664.0,458.6 668.0,456.1 672.0,453.7 676.0,451.3 680.0,448.9 684.0,446.5 688.0,444.1 692.0,441.6 696.0,438.9 700.0,436.2 704.0,433.5 708.0,430.8 712.0,428.3 716.0,425.9 720.0,423.5 724.0,421.3 728.0,420.0 732.0,418.6 736.0,417.3 740.0,415.9 744.0,413.2 748.0,409.3 752.0,405.6 756.0,402.0 760.0,397.7 764.0,392.9 768.0,388.0 772.0,383.7 776.0,378.8 780.0,373.6 784.0,368.9 788.0,368.7 792.0,368.4 796.0,366.8 800.0,365.3 804.0,364.9 808.0,364.2 812.0,363.5 816.0,362.7 820.0,362.0 824.0,361.2 828.0,360.0 832.0,358.8 836.0,357.6 840.0,356.4 844.0,355.2 848.0,354.0 852.0,352.2 856.0,350.0 860.0,347.9 864.0,345.7 868.0,343.5 872.0,341.3 876.0,339.1 880.0,337.5 884.0,335.9 888.0,334.4 892.0,332.8 896.0,331.2 900.0,329.6 904.0,327.9 908.0,326.2 908.0,383.7 904.0,386.4 900.0,389.2 896.0,392.1 892.0,395.1 888.0,398.2 884.0,401.2 880.0,402.1 876.0,403.1 872.0,404.3 868.0,405.4 864.0,406.6 860.0,407.2 856.0,407.7 852.0,408.3 848.0,409.0 844.0,409.7 840.0,410.3 836.0,411.0 832.0,411.7 828.0,412.3 824.0,412.9 820.0,413.5 816.0,414.1 812.0,414.6 808.0,415.9 804.0,418.3 800.0,420.7 796.0,423.3 792.0,427.6 788.0,432.0 784.0,436.4 780.0,439.2 776.0,442.0 772.0,445.6 768.0,450.2 764.0,454.9 760.0,459.6 756.0,463.9 752.0,467.4 748.0,471.0 744.0,474.5 740.0,477.9 736.0,481.0 732.0,482.5 728.0,483.9 724.0,485.2 720.0,486.5 716.0,487.8 712.0,489.9 708.0,492.0 704.0,494.1 700.0,496.2 696.0,498.2 692.0,500.1 688.0,502.1 684.0,504.1 680.0,506.1 676.0,508.1 672.0,510.2 668.0,512.3 664.0,514.4 660.0,516.6 656.0,518.7 652.0,520.9 648.0,523.1 644.0,525.4 640.0,527.7 636.0,530.4 632.0,533.2 628.0,535.9 624.0,538.6 620.0,541.9 616.0,545.1 612.0,548.2 608.0,550.7 604.0,553.3 600.0,555.8" fill="rgb(51,51,51)" style="mix-blend-mode:lighten"/>
<polygon points="600.0,491.2 604.0,489.9 608.0,488.6 612.0,487.1 616.0,485.3 620.0,483.6 624.0,481.8 628.0,480.0 632.0,478.3 636.0,476.5 640.0,474.4 644.0,472.2 648.0,470.0 652.0,467.8 656.0,465.5 660.0,463.3 664.0,461.1 668.0,458.7 672.0,456.3 676.0,453.9 680.0,451.5 684.0,449.1 688.0,446.7 692.0,444.2 696.0,441.6 700.0,439.0 704.0,436.3 708.0,433.7 712.0,431.2 716.0,428.9 720.0,426.5 724.0,424.2 728.0,422.8 732.0,421.4 736.0,420.0 740.0,418.6 744.0,416.2 748.0,412.7 752.0,409.3 756.0,405.9 760.0,402.0 764.0,397.5 768.0,393.1 772.0,388.8 776.0,384.0 780.0,378.9 784.0,374.0 788.0,372.6 792.0,371.2 796.0,369.5 800.0,367.9 804.0,367.3 808.0,366.6 812.0,366.0 816.0,365.3 820.0,364.6 824.0,363.9 828.0,362.7 832.0,361.5 836.0,360.3 840.0,359.1 844.0,357.9 848.0,356.7 852.0,354.9 856.0,352.7 860.0,350.5 864.0,348.3 868.0,346.1 872.0,343.9 876.0,341.7 880.0,340.1 884.0,338.5 888.0,336.8 892.0,335.2 896.0,333.5 900.0,331.9 904.0,330.1 908.0,328.4 908.0,380.9 904.0,383.6 900.0,386.3 896.0,389.1 892.0,392.1 888.0,395.0 884.0,398.0 880.0,399.2 876.0,400.4 872.0,401.7 868.0,402.9 864.0,404.1 860.0,404.9 856.0,405.5 852.0,406.1 848.0,406.7 844.0,407.3 840.0,407.9 836.0,408.6 832.0,409.2 828.0,409.8 824.0,410.4 820.0,410.9 816.0,411.5 812.0,412.1 808.0,413.7 804.0,416.1 800.0,418.5 796.0,421.4 792.0,425.7 788.0,430.1 784.0,434.5 780.0,437.5 776.0,440.5 772.0,443.9 768.0,448.4 764.0,452.8 760.0,457.2 756.0,461.2 752.0,464.7 748.0,468.2 744.0,471.3 740.0,474.3 736.0,477.0 732.0,478.4 728.0,479.8 724.0,481.1 720.0,482.5 716.0,483.9 712.0,485.9 708.0,487.9 704.0,489.9 700.0,491.9 696.0,493.9 692.0,495.9 688.0,497.9 684.0,499.8 680.0,501.8 676.0,503.8 672.0,505.8 668.0,507.9 664.0,509.9 660.0,511.9 656.0,513.9 652.0,516.0 648.0,518.0 644.0,520.1 640.0,522.2 636.0,524.5 632.0,526.9 628.0,529.3 624.0,531.7 620.0,534.3 616.0,536.9 612.0,539.4 608.0,541.9 604.0,544.3 600.0,546.8" fill="rgb(87,87,87)" style="mix-blend-mode:lighten"/>
<polygon points="600.0,495.3 604.0,493.8 608.0,492.3 612.0,490.6 616.0,488.7 620.0,486.8 624.0,484.8 628.0,482.9 632.0,481.1 636.0,479.2 640.0,477.1 644.0,474.8 648.0,472.6 652.0,470.4 656.0,468.2 660.0,466.0 664.0,463.8 668.0,461.4 672.0,459.1 676.0,456.7 680.0,454.4 684.0,452.0 688.0,449.6 692.0,447.1 696.0,444.5 700.0,441.9 704.0,439.4 708.0,436.8 712.0,434.4 716.0,432.0 720.0,429.7 724.0,427.4 728.0,425.9 732.0,424.5 736.0,423.0 740.0,421.6 744.0,419.3 748.0,416.4 752.0,413.3 756.0,410.2 760.0,406.5 764.0,402.6 768.0,398.7 772.0,394.3 776.0,389.6 780.0,384.7 784.0,379.6 788.0,376.9 792.0,374.2 796.0,372.4 800.0,370.7 804.0,369.9 808.0,369.3 812.0,368.7 816.0,368.0 820.0,367.4 824.0,366.7 828.0,365.5 832.0,364.3 836.0,363.1 840.0,361.9 844.0,360.7 848.0,359.5 852.0,357.7 856.0,355.5 860.0,353.3 864.0,351.1 868.0,348.9 872.0,346.7 876.0,344.6 880.0,342.9 884.0,341.2 888.0,339.5 892.0,337.8 896.0,336.1 900.0,334.3 904.0,332.6 908.0,330.9 908.0,377.9 904.0,380.5 900.0,383.1 896.0,385.9 892.0,388.8 888.0,391.7 884.0,394.5 880.0,396.1 876.0,397.5 872.0,398.8 868.0,400.1 864.0,401.4 860.0,402.4 856.0,403.1 852.0,403.7 848.0,404.2 844.0,404.8 840.0,405.4 836.0,405.9 832.0,406.5 828.0,407.1 824.0,407.6 820.0,408.2 816.0,408.8 812.0,409.5 808.0,411.3 804.0,413.7 800.0,416.1 796.0,419.3 792.0,423.7 788.0,428.1 784.0,432.4 780.0,435.6 776.0,438.8 772.0,442.2 768.0,446.3 764.0,450.5 760.0,454.6 756.0,458.3 752.0,461.7 748.0,465.1 744.0,467.8 740.0,470.3 736.0,472.7 732.0,474.0 728.0,475.3 724.0,476.7 720.0,478.2 716.0,479.6 712.0,481.5 708.0,483.4 704.0,485.3 700.0,487.2 696.0,489.2 692.0,491.2 688.0,493.2 684.0,495.2 680.0,497.2 676.0,499.2 672.0,501.1 668.0,503.0 664.0,504.9 660.0,506.9 656.0,508.8 652.0,510.7 648.0,512.6 644.0,514.4 640.0,516.1 636.0,518.2 632.0,520.2 628.0,522.2 624.0,524.3 620.0,526.1 616.0,528.0 612.0,530.0 608.0,532.3 604.0,534.7 600.0,537.1" fill="rgb(117,117,117)" style="mix-blend-mode:lighten"/>
<polygon points="600.0,499.5 604.0,497.8 608.0,496.1 612.0,494.3 616.0,492.2 620.0,490.1 624.0,488.0 628.0,486.0 632.0,484.0 636.0,482.0 640.0,479.8 644.0,477.6 648.0,475.4 652.0,473.2 656.0,471.0 660.0,468.8 664.0,466.6 668.0,464.3 672.0,462.0 676.0,459.7 680.0,457.3 684.0,454.9 688.0,452.5 692.0,450.0 696.0,447.5 700.0,445.0 704.0,442.5 708.0,440.1 712.0,437.7 716.0,435.4 720.0,433.0 724.0,430.8 728.0,429.1 732.0,427.6 736.0,426.1 740.0,424.6 744.0,422.6 748.0,420.2 752.0,417.5 756.0,414.5 760.0,411.3 764.0,407.8 768.0,404.4 772.0,400.1 776.0,395.4 780.0,390.7 784.0,385.3 788.0,381.3 792.0,377.3 796.0,375.5 800.0,373.7 804.0,372.6 808.0,372.1 812.0,371.5 816.0,370.9 820.0,370.3 824.0,369.6 828.0,368.4 832.0,367.2 836.0,366.0 840.0,364.8 844.0,363.6 848.0,362.4 852.0,360.6 856.0,358.4 860.0,356.3 864.0,354.1 868.0,351.9 872.0,349.7 876.0,347.5 880.0,345.7 884.0,344.0 888.0,342.2 892.0,340.4 896.0,338.7 900.0,336.9 904.0,335.1 908.0,333.4 908.0,374.8 904.0,377.3 900.0,379.9 896.0,382.5 892.0,385.3 888.0,388.1 884.0,390.9 880.0,392.9 876.0,394.5 872.0,395.9 868.0,397.3 864.0,398.6 860.0,399.8 856.0,400.6 852.0,401.1 848.0,401.7 844.0,402.2 840.0,402.7 836.0,403.2 832.0,403.7 828.0,404.3 824.0,404.8 820.0,405.4 816.0,406.0 812.0,406.8 808.0,408.8 804.0,411.2 800.0,413.6 796.0,417.2 792.0,421.7 788.0,426.0 784.0,430.2 780.0,433.7 776.0,437.0 772.0,440.4 768.0,444.2 764.0,448.1 760.0,451.8 756.0,455.4 752.0,458.7 748.0,462.0 744.0,464.3 740.0,466.3 736.0,468.1 732.0,469.4 728.0,470.7 724.0,472.2 720.0,473.6 716.0,475.1 712.0,476.9 708.0,478.7 704.0,480.5 700.0,482.4 696.0,484.4 692.0,486.4 688.0,488.5 684.0,490.5 680.0,492.5 676.0,494.4 672.0,496.2 668.0,498.0 664.0,499.8 660.0,501.6 656.0,503.4 652.0,505.2 648.0,506.9 644.0,508.4 640.0,509.9 636.0,511.6 632.0,513.2 628.0,514.9 624.0,516.6 620.0,517.6 616.0,518.7 612.0,520.2 608.0,522.5 604.0,524.7 600.0,527.0" fill="rgb(148,148,148)" style="mix-blend-mode:lighten"/>
<polygon points="600.0,503.7 604.0,501.8 608.0,499.9 612.0,497.9 616.0,495.7 620.0,493.4 624.0,491.1 628.0,489.0 632.0,486.9 636.0,484.7 640.0,482.6 644.0,480.4 648.0,478.1 652.0,475.9 656.0,473.7 660.0,471.6 664.0,469.4 668.0,467.1 672.0,464.9 676.0,462.7 680.0,460.3 684.0,457.9 688.0,455.5 692.0,453.0 696.0,450.6 700.0,448.1 704.0,445.7 708.0,443.3 712.0,441.0 716.0,438.7 720.0,436.4 724.0,434.1 728.0,432.3 732.0,430.7 736.0,429.2 740.0,427.7 744.0,426.0 748.0,424.0 752.0,421.6 756.0,418.9 760.0,416.0 764.0,413.1 768.0,410.1 772.0,405.8 776.0,401.3 780.0,396.7 784.0,391.1 788.0,385.7 792.0,380.4 796.0,378.5 800.0,376.6 804.0,375.4 808.0,374.8 812.0,374.3 816.0,373.8 820.0,373.2 824.0,372.6 828.0,371.4 832.0,370.2 836.0,369.0 840.0,367.8 844.0,366.6 848.0,365.4 852.0,363.6 856.0,361.4 860.0,359.2 864.0,357.0 868.0,354.8 872.0,352.6 876.0,350.4 880.0,348.6 884.0,346.8 888.0,344.9 892.0,343.1 896.0,341.3 900.0,339.5 904.0,337.7 908.0,335.9 908.0,371.7 904.0,374.1 900.0,376.6 896.0,379.2 892.0,381.9 888.0,384.6 884.0,387.4 880.0,389.7 876.0,391.5 872.0,393.0 868.0,394.4 864.0,395.8 860.0,397.2 856.0,398.2 852.0,398.6 848.0,399.1 844.0,399.5 840.0,400.0 836.0,400.5 832.0,400.9 828.0,401.5 824.0,402.0 820.0,402.6 816.0,403.2 812.0,404.0 808.0,406.3 804.0,408.7 800.0,411.1 796.0,415.1 792.0,419.6 788.0,423.9 784.0,428.0 780.0,431.8 776.0,435.2 772.0,438.6 768.0,442.1 764.0,445.7 760.0,449.1 756.0,452.4 752.0,455.6 748.0,458.8 744.0,460.7 740.0,462.2 736.0,463.6 732.0,464.8 728.0,466.0 724.0,467.6 720.0,469.1 716.0,470.7 712.0,472.4 708.0,474.0 704.0,475.7 700.0,477.6 696.0,479.6 692.0,481.7 688.0,483.7 684.0,485.7 680.0,487.7 676.0,489.7 672.0,491.3 668.0,493.0 664.0,494.7 660.0,496.4 656.0,498.1 652.0,499.8 648.0,501.2 644.0,502.4 640.0,503.7 636.0,505.0 632.0,506.2 628.0,507.5 624.0,508.8 620.0,509.2 616.0,509.5 612.0,510.4 608.0,512.6 604.0,514.8 600.0,516.9" fill="rgb(178,178,178)" style="mix-blend-mode:lighten"/>
<polygon points="614.0,500.2 618.0,497.7 622.0,495.2 626.0,492.9 630.0,490.7 634.0,488.4 638.0,486.2 642.0,484.0 646.0,481.8 650.0,479.6 654.0,477.4 658.0,475.2 662.0,473.0 666.0,470.9 670.0,468.7 674.0,466.5 678.0,464.2 682.0,461.8 686.0,459.4 690.0,457.0 694.0,454.6 698.0,452.2 702.0,449.8 706.0,447.5 710.0,445.2 714.0,442.9 718.0,440.6 722.0,438.3 726.0,436.0 730.0,434.4 734.0,432.9 738.0,431.3 742.0,429.8 746.0,428.3 750.0,426.7 754.0,424.2 758.0,421.7 762.0,419.2 766.0,416.7 770.0,413.3 774.0,408.9 778.0,404.5 782.0,399.7 786.0,393.1 790.0,386.4 794.0,382.3 798.0,380.3 802.0,378.2 806.0,377.6 810.0,377.1 814.0,376.7 818.0,376.2 822.0,375.7 826.0,374.7 830.0,373.5 834.0,372.3 838.0,371.1 842.0,369.9 846.0,368.7 850.0,367.4 854.0,365.2 858.0,363.0 862.0,360.8 866.0,358.6 870.0,356.5 874.0,354.3 878.0,352.2 882.0,350.3 886.0,348.4 890.0,346.5 894.0,344.7 898.0,342.8 902.0,341.0 906.0,339.2 910.0,337.4 910.0,367.6 906.0,370.0 902.0,372.4 898.0,374.8 894.0,377.4 890.0,380.1 886.0,382.7 882.0,385.4 878.0,388.0 874.0,389.5 870.0,391.0 866.0,392.5 862.0,394.0 858.0,395.6 854.0,396.1 850.0,396.5 846.0,396.9 842.0,397.3 838.0,397.7 834.0,398.1 830.0,398.6 826.0,399.1 822.0,399.7 818.0,400.3 814.0,400.8 810.0,402.7 806.0,405.1 802.0,407.6 798.0,410.9 794.0,415.4 790.0,419.9 786.0,424.0 782.0,428.0 778.0,431.9 774.0,435.3 770.0,438.5 766.0,441.8 762.0,445.0 758.0,448.1 754.0,451.2 750.0,454.3 746.0,456.8 742.0,457.9 738.0,458.9 734.0,460.0 730.0,461.1 726.0,462.5 722.0,464.1 718.0,465.8 714.0,467.3 710.0,468.9 706.0,470.5 702.0,472.2 698.0,474.2 694.0,476.2 690.0,478.2 686.0,480.2 682.0,482.2 678.0,484.3 674.0,486.0 670.0,487.6 666.0,489.2 662.0,490.8 658.0,492.3 654.0,493.9 650.0,495.5 646.0,496.4 642.0,497.4 638.0,498.3 634.0,499.3 630.0,500.2 626.0,501.2 622.0,501.5 618.0,501.1 614.0,500.7" fill="rgb(217,217,217)" style="mix-blend-mode:lighten"/>
<ellipse cx="842" cy="386" rx="24" ry="6.5" fill="rgb(252,252,252)" transform="rotate(-8 842 386)"/>
<ellipse cx="896" cy="360" rx="9" ry="9" fill="rgb(247,247,247)"/>
<path d="M800,392 L870,372 L900,358" stroke="rgb(237,237,237)" stroke-width="10" fill="none" stroke-linecap="round"/>
<path d="M690,468 L720,452 L752,436 L772,418" stroke="rgb(235,235,235)" stroke-width="7" fill="none" stroke-linecap="round"/>
<path d="M640,488 L680,470" stroke="rgb(214,214,214)" stroke-width="8" fill="none" stroke-linecap="round"/>
<path d="M470,306 L482,321 L498,306 Z" fill="rgb(153,153,153)"/>
<path d="M652,575 L663,561 L676,575 Z" fill="rgb(115,115,115)"/>
</g></g>
<rect x="446.3" y="311.2" width="453.2" height="258.00000000000006" fill="none" stroke="#0a0a28" stroke-width="1.7"/>
<path d="M812.2,383.8 l7.2,13.8 h-14.4 Z" fill="#0a0a0a"/>
<path d="M768.8,419 l7.2,13.8 h-14.4 Z" fill="#0a0a0a"/>
<path d="M721.8,441.5 l7.2,13.8 h-14.4 Z" fill="#0a0a0a"/>
<path d="M678.2,474.8 l7.2,13.8 h-14.4 Z" fill="#0a0a0a"/>
<path d="M615.2,509.5 l7.2,13.8 h-14.4 Z" fill="#0a0a0a"/>
<path d="M551.4,502.6 l7.2,13.8 h-14.4 Z" fill="#0a0a0a"/>
<path d="M497,508.8 l7.2,13.8 h-14.4 Z" fill="#0a0a0a"/>
<path d="M450.2,487.3 l7.2,13.8 h-14.4 Z" fill="#0a0a0a"/>
<text x="787" y="361.2" font-size="20.6" font-family="Liberation Sans, sans-serif" fill="#fff">pt1</text>
<text x="777.6" y="454" font-size="20.6" font-family="Liberation Sans, sans-serif" fill="#fff">pt2</text>
<text x="685.2" y="423.8" font-size="20.6" font-family="Liberation Sans, sans-serif" fill="#fff">pt3</text>
<text x="670.8" y="512.5" font-size="20.6" font-family="Liberation Sans, sans-serif" fill="#fff">pt4</text>
<text x="618.2" y="543.3" font-size="20.6" font-family="Liberation Sans, sans-serif" fill="#fff">pt5</text>
<text x="539" y="485" font-size="20.6" font-family="Liberation Sans, sans-serif" fill="#fff">pt6</text>
<text x="476.2" y="550" font-size="20.6" font-family="Liberation Sans, sans-serif" fill="#fff">pt7</text>
<text x="448.2" y="467.8" font-size="20.6" font-family="Liberation Sans, sans-serif" fill="#fff">pt8</text>
<text x="801.6" y="545.8" font-size="20.6" font-family="Liberation Sans, sans-serif" fill="#fff">200 μm</text>
<rect x="778.3" y="557.4" width="120.4" height="5" fill="#fff"/>
<rect x="921.4" y="343.3" width="38.4" height="204.4" fill="url(#cbar)"/>
<path d="M960.2,343.3 V547.7 M959.5,343.6 H963 M959.5,547.4 H963" stroke="#111" stroke-width="1.1" fill="none"/>
<text x="917.4" y="334" font-size="20.4" font-family="Liberation Sans, sans-serif" fill="#111">1.7e<tspan dy="-7.5" font-size="13.5">4</tspan></text>
<text x="936.4" y="569.2" font-size="20.4" font-family="Liberation Sans, sans-serif" fill="#111">0</text>
<g id="chart">
<path d="M1027.0,248.7 C1029.2,248.6 1035.0,248.4 1039.5,248.1 C1044.0,247.8 1048.6,247.5 1052.0,246.9 C1055.4,246.3 1056.4,246.2 1058.2,245.0 C1060.0,243.8 1060.9,242.2 1062.0,240.0 C1063.1,237.8 1063.6,234.4 1064.5,232.5 C1065.4,230.6 1066.1,229.4 1067.0,229.3 C1067.9,229.2 1068.7,231.1 1069.5,231.9 C1070.3,232.7 1070.5,233.7 1071.3,233.7 C1072.1,233.7 1072.8,236.2 1073.8,231.9 C1074.8,227.6 1075.9,217.1 1076.9,210.0 C1077.9,202.9 1078.5,198.8 1079.4,192.5 C1080.3,186.2 1081.0,180.8 1081.9,175.0 C1082.8,169.2 1083.6,164.1 1084.4,160.0 C1085.2,155.9 1085.4,155.8 1086.3,152.4 C1087.2,149.0 1087.9,145.0 1089.4,141.2 C1090.9,137.4 1092.8,134.8 1094.4,131.2 C1096.0,127.6 1097.1,125.7 1098.2,121.2 C1099.3,116.7 1099.9,111.5 1100.7,106.2 C1101.5,100.9 1101.7,97.8 1102.5,92.0 C1103.3,86.2 1104.0,80.6 1105.0,73.7 C1106.0,66.8 1107.2,58.8 1108.2,53.7 C1109.2,48.6 1109.8,47.7 1110.7,45.6 C1111.6,43.5 1112.3,41.8 1113.4,41.9 C1114.5,42.0 1115.6,43.2 1116.9,46.2 C1118.2,49.2 1119.0,53.3 1120.6,58.7 C1122.2,64.1 1124.0,70.6 1125.6,76.2 C1127.2,81.8 1128.1,86.0 1129.4,90.0 C1130.8,94.0 1131.3,95.5 1133.1,98.7 C1134.9,101.9 1136.9,104.7 1139.4,107.5 C1141.9,110.3 1143.5,111.8 1146.9,114.3 C1150.3,116.8 1153.6,118.8 1158.1,121.2 C1162.6,123.6 1167.8,125.2 1171.8,127.5 C1175.8,129.8 1177.7,131.5 1180.6,133.7 C1183.5,135.9 1185.6,138.1 1188.1,139.9 C1190.6,141.7 1192.3,143.1 1194.3,143.7 C1196.3,144.3 1197.7,143.5 1199.3,143.1 C1200.9,142.7 1201.7,141.3 1203.0,141.4 C1204.3,141.5 1205.2,143.1 1206.8,143.9 C1208.4,144.7 1209.5,145.7 1211.8,145.6 C1214.0,145.5 1216.1,144.6 1219.3,143.1 C1222.5,141.6 1225.9,139.7 1229.3,137.4 C1232.7,135.2 1235.5,132.1 1238.0,130.6 C1240.5,129.1 1241.4,129.5 1243.0,129.3 C1244.6,129.1 1244.3,129.7 1247.0,129.7 C1249.7,129.7 1253.9,129.8 1258.0,129.5 C1262.1,129.2 1265.5,129.0 1270.0,127.9 C1274.5,126.8 1278.4,124.9 1283.1,123.5 C1287.8,122.1 1292.8,121.0 1296.3,120.3 C1299.8,119.6 1298.1,119.3 1302.8,119.5 C1307.5,119.7 1314.2,120.5 1322.5,121.6 C1330.8,122.7 1339.3,124.2 1348.8,125.6 C1358.3,127.0 1365.6,128.0 1375.1,129.2 C1384.5,130.4 1392.5,131.3 1401.3,132.1 C1410.1,132.9 1420.1,133.2 1424.2,133.4" fill="none" stroke="#c97b4c" stroke-width="1.25" stroke-linejoin="round"/>
<path d="M1027.0,311.9 C1029.2,311.7 1035.0,311.2 1039.5,310.6 C1044.0,310.0 1048.6,309.5 1052.0,308.7 C1055.4,307.9 1056.7,307.3 1058.2,306.2 C1059.7,305.1 1059.3,304.4 1060.1,302.4 C1060.9,300.4 1061.8,297.7 1062.6,295.0 C1063.4,292.3 1063.7,289.4 1064.5,287.4 C1065.3,285.4 1066.1,284.7 1067.0,283.7 C1067.9,282.7 1068.7,281.8 1069.5,281.8 C1070.3,281.8 1070.6,283.1 1071.3,283.7 C1072.0,284.3 1072.6,286.1 1073.2,285.0 C1073.8,283.9 1073.8,282.4 1074.4,277.5 C1075.0,272.6 1075.6,265.5 1076.5,258.0 C1077.4,250.5 1078.4,244.6 1079.4,236.0 C1080.4,227.4 1081.0,218.7 1081.9,210.0 C1082.8,201.3 1083.5,194.2 1084.4,187.5 C1085.3,180.8 1086.0,176.6 1086.9,172.5 C1087.8,168.4 1088.3,166.8 1089.4,165.0 C1090.5,163.2 1091.9,163.2 1093.0,162.5 C1094.1,161.8 1094.9,162.2 1095.7,161.0 C1096.5,159.8 1096.7,159.3 1097.5,156.0 C1098.3,152.7 1099.0,148.4 1100.0,142.4 C1101.0,136.4 1102.0,130.1 1103.2,122.5 C1104.4,114.9 1105.7,105.7 1106.9,100.0 C1108.1,94.3 1108.8,93.2 1110.0,91.0 C1111.2,88.8 1112.3,88.0 1113.4,88.0 C1114.5,88.0 1114.9,89.1 1116.0,91.0 C1117.1,92.9 1117.4,94.4 1119.4,98.7 C1121.4,103.0 1124.2,109.2 1126.9,115.0 C1129.6,120.8 1131.5,126.3 1134.4,131.2 C1137.3,136.1 1138.8,139.6 1143.1,142.4 C1147.4,145.2 1153.1,145.7 1158.1,146.8 C1163.0,147.9 1167.2,147.7 1170.6,148.7 C1174.0,149.7 1174.5,150.4 1176.8,152.4 C1179.0,154.4 1180.8,157.4 1183.1,159.9 C1185.3,162.4 1187.0,164.3 1189.3,166.2 C1191.5,168.1 1193.6,169.9 1195.6,170.6 C1197.6,171.3 1199.3,170.3 1200.6,170.0 C1201.9,169.7 1201.9,168.5 1203.0,168.7 C1204.1,168.9 1205.0,170.4 1206.8,171.2 C1208.6,172.0 1210.3,173.2 1213.0,173.1 C1215.7,173.0 1218.2,172.1 1221.8,170.6 C1225.4,169.1 1229.4,166.9 1233.0,165.0 C1236.6,163.1 1239.3,161.4 1241.8,160.0 C1244.3,158.6 1244.1,158.0 1247.0,157.0 C1249.9,156.0 1253.9,155.3 1258.0,154.5 C1262.1,153.7 1263.1,153.9 1270.0,152.4 C1276.9,150.9 1289.2,147.6 1296.3,146.3 C1303.4,145.0 1302.3,144.9 1309.4,145.3 C1316.5,145.7 1323.9,146.7 1335.7,148.4 C1347.5,150.1 1359.2,152.8 1375.1,155.0 C1391.0,157.2 1415.4,159.5 1424.2,160.5" fill="none" stroke="#8a8a8a" stroke-width="1.25" stroke-linejoin="round"/>
<path d="M1027.0,327.2 C1029.2,327.0 1035.0,326.7 1039.5,326.2 C1044.0,325.7 1048.6,325.2 1052.0,324.3 C1055.4,323.4 1056.5,322.7 1058.2,321.2 C1059.9,319.7 1060.4,318.7 1061.3,316.2 C1062.2,313.7 1062.4,310.1 1063.2,307.5 C1064.0,304.9 1064.8,303.3 1065.7,301.9 C1066.6,300.5 1067.1,300.1 1068.0,299.5 C1068.9,298.9 1069.9,298.5 1070.7,298.7 C1071.5,298.9 1072.0,300.8 1072.6,300.5 C1073.2,300.2 1073.3,300.5 1074.0,297.0 C1074.7,293.5 1075.0,292.0 1076.3,281.0 C1077.6,270.0 1080.2,246.1 1081.3,236.0 C1082.4,225.9 1081.8,231.0 1082.6,225.0 C1083.4,219.0 1084.7,209.4 1085.7,202.4 C1086.7,195.4 1087.3,190.2 1088.2,186.2 C1089.1,182.2 1089.4,181.6 1090.7,180.0 C1092.0,178.4 1094.1,179.8 1095.7,177.5 C1097.3,175.2 1098.3,171.2 1099.4,167.5 C1100.5,163.8 1101.0,163.3 1101.9,157.0 C1102.8,150.7 1103.3,140.4 1104.4,132.4 C1105.5,124.4 1107.0,117.6 1108.2,112.5 C1109.4,107.4 1110.1,106.0 1111.0,104.0 C1111.9,102.0 1112.5,101.5 1113.4,101.5 C1114.3,101.5 1114.9,102.3 1116.0,104.0 C1117.1,105.7 1117.7,107.0 1119.4,111.2 C1121.1,115.4 1123.3,122.1 1125.6,127.5 C1127.8,132.9 1129.4,136.7 1131.9,141.2 C1134.4,145.7 1136.2,149.2 1139.4,152.4 C1142.6,155.6 1145.4,156.9 1149.4,158.7 C1153.5,160.5 1158.1,161.2 1161.9,162.4 C1165.7,163.6 1167.5,163.2 1170.6,165.5 C1173.7,167.8 1176.4,171.9 1179.3,175.0 C1182.2,178.1 1184.1,180.2 1186.8,182.5 C1189.5,184.8 1191.8,186.7 1194.3,187.5 C1196.8,188.3 1198.9,187.1 1200.6,186.8 C1202.3,186.5 1202.6,185.4 1203.7,185.6 C1204.8,185.8 1205.1,187.2 1206.8,188.1 C1208.5,189.0 1210.1,190.8 1213.0,190.6 C1215.9,190.4 1219.2,188.9 1223.0,186.8 C1226.8,184.7 1230.7,181.1 1234.3,178.7 C1237.9,176.3 1240.7,174.7 1243.0,173.7 C1245.3,172.7 1244.3,173.5 1247.0,173.1 C1249.7,172.7 1253.9,172.1 1258.0,171.5 C1262.1,170.9 1264.1,171.1 1270.0,169.7 C1275.9,168.3 1284.4,165.3 1291.0,163.7 C1297.6,162.1 1301.1,161.3 1306.8,161.0 C1312.5,160.7 1314.9,161.3 1322.5,162.3 C1330.1,163.3 1339.3,164.8 1348.8,166.3 C1358.3,167.8 1365.6,169.1 1375.1,170.5 C1384.5,171.9 1392.5,173.3 1401.3,174.2 C1410.1,175.1 1420.1,175.4 1424.2,175.7" fill="none" stroke="#8a8a8a" stroke-width="1.25" stroke-linejoin="round"/>
<path d="M1027.0,343.0 C1029.2,342.8 1035.0,342.4 1039.5,341.8 C1044.0,341.2 1048.6,340.7 1052.0,339.7 C1055.4,338.7 1056.4,337.9 1058.2,336.2 C1060.0,334.5 1060.9,332.5 1062.0,330.0 C1063.1,327.5 1063.4,324.6 1064.5,322.5 C1065.6,320.4 1067.1,318.8 1068.2,318.1 C1069.3,317.4 1069.9,318.6 1070.7,318.7 C1071.5,318.8 1071.8,319.6 1072.5,318.5 C1073.2,317.4 1073.5,315.8 1074.4,312.5 C1075.3,309.2 1076.0,313.8 1077.6,300.0 C1079.2,286.2 1081.7,250.4 1083.2,236.0 C1084.7,221.6 1084.8,225.1 1085.7,220.0 C1086.6,214.9 1087.3,210.9 1088.2,207.4 C1089.1,203.9 1089.5,202.6 1090.7,200.6 C1091.9,198.6 1093.7,199.0 1095.0,196.2 C1096.3,193.4 1097.2,189.3 1098.2,185.0 C1099.2,180.7 1099.9,177.0 1100.7,172.5 C1101.5,168.0 1101.7,165.4 1102.5,160.0 C1103.3,154.6 1104.0,148.2 1105.0,142.4 C1106.0,136.6 1107.2,131.2 1108.2,127.5 C1109.2,123.8 1109.7,123.3 1110.5,122.0 C1111.3,120.7 1112.0,119.9 1112.9,120.0 C1113.8,120.1 1114.6,121.2 1115.5,122.5 C1116.4,123.8 1116.5,123.9 1118.1,127.5 C1119.7,131.1 1122.2,137.5 1124.4,142.4 C1126.7,147.3 1128.1,150.9 1130.6,155.0 C1133.1,159.1 1134.3,161.6 1138.1,165.0 C1141.9,168.4 1147.2,171.0 1151.9,173.7 C1156.6,176.4 1160.7,178.0 1164.3,180.0 C1167.9,182.0 1168.9,182.3 1171.8,185.0 C1174.7,187.7 1177.4,191.6 1180.6,195.0 C1183.8,198.4 1186.6,201.6 1189.3,203.7 C1192.0,205.8 1193.5,206.6 1195.6,206.8 C1197.7,207.0 1199.7,205.6 1201.2,205.0 C1202.7,204.4 1202.7,203.2 1203.7,203.3 C1204.7,203.4 1205.1,204.9 1206.8,205.6 C1208.5,206.3 1210.3,207.7 1213.0,207.4 C1215.7,207.1 1218.2,205.9 1221.8,203.7 C1225.4,201.5 1229.4,197.5 1233.0,195.0 C1236.6,192.5 1239.3,191.0 1241.8,190.0 C1244.3,189.0 1244.1,189.6 1247.0,189.3 C1249.9,189.0 1253.9,188.8 1258.0,188.3 C1262.1,187.9 1264.1,188.3 1270.0,186.8 C1275.9,185.3 1284.4,181.9 1291.0,180.2 C1297.6,178.5 1301.1,177.7 1306.8,177.6 C1312.5,177.5 1314.9,178.2 1322.5,179.4 C1330.1,180.6 1339.3,182.4 1348.8,184.1 C1358.3,185.8 1365.6,187.4 1375.1,188.9 C1384.5,190.4 1392.5,191.7 1401.3,192.6 C1410.1,193.5 1420.1,193.8 1424.2,194.1" fill="none" stroke="#8a8a8a" stroke-width="1.25" stroke-linejoin="round"/>
<path d="M1027.0,366.2 C1029.2,366.1 1035.0,365.8 1039.5,365.5 C1044.0,365.2 1048.6,364.9 1052.0,364.3 C1055.4,363.7 1056.4,363.6 1058.2,362.4 C1060.0,361.2 1060.9,359.6 1062.0,357.4 C1063.1,355.2 1063.6,352.2 1064.5,350.0 C1065.4,347.8 1066.1,345.5 1067.0,345.0 C1067.9,344.5 1068.6,346.4 1069.5,347.4 C1070.4,348.4 1071.1,350.6 1072.0,350.6 C1072.9,350.6 1073.5,350.2 1074.4,347.4 C1075.3,344.6 1076.0,340.2 1076.9,335.0 C1077.8,329.8 1078.7,324.5 1079.4,318.7 C1080.1,312.9 1080.3,307.7 1081.0,303.0 C1081.7,298.3 1082.4,297.0 1083.2,292.4 C1084.0,287.8 1084.6,283.7 1085.7,277.4 C1086.8,271.1 1088.1,263.8 1089.4,257.5 C1090.8,251.2 1091.9,247.1 1093.2,242.5 C1094.5,237.9 1095.4,236.7 1096.5,232.0 C1097.6,227.3 1098.4,222.4 1099.4,216.2 C1100.4,210.0 1101.1,204.2 1101.9,197.5 C1102.7,190.8 1103.1,185.4 1103.8,178.7 C1104.5,171.9 1104.9,167.0 1105.7,160.0 C1106.5,153.0 1107.3,145.2 1108.2,140.0 C1109.1,134.8 1109.8,133.0 1110.5,131.0 C1111.2,129.0 1111.6,128.5 1112.3,128.7 C1113.0,128.9 1113.7,130.0 1114.5,132.0 C1115.3,134.0 1115.7,134.9 1116.9,139.9 C1118.1,144.9 1119.7,153.0 1121.3,160.0 C1122.9,167.0 1123.9,171.9 1125.6,178.7 C1127.3,185.4 1128.8,192.1 1130.6,197.5 C1132.4,202.9 1133.1,205.3 1135.6,208.7 C1138.1,212.1 1140.8,213.7 1144.4,216.2 C1148.0,218.7 1151.6,220.2 1155.6,222.4 C1159.6,224.7 1163.0,226.7 1166.8,228.7 C1170.6,230.7 1173.9,231.7 1176.8,233.7 C1179.7,235.7 1180.8,237.8 1183.1,240.0 C1185.3,242.2 1187.0,244.5 1189.3,246.2 C1191.5,247.9 1193.6,249.0 1195.6,249.4 C1197.6,249.8 1199.0,248.8 1200.6,248.5 C1202.2,248.2 1203.0,247.4 1204.3,247.5 C1205.6,247.6 1206.4,248.6 1208.0,249.0 C1209.6,249.4 1211.0,250.3 1213.0,250.0 C1215.0,249.7 1216.8,249.1 1219.3,247.5 C1221.8,245.9 1224.3,243.6 1226.8,241.2 C1229.3,238.8 1230.8,236.6 1233.0,234.0 C1235.2,231.4 1236.8,228.4 1239.3,226.5 C1241.8,224.6 1243.6,224.1 1247.0,223.7 C1250.4,223.3 1253.9,224.3 1258.0,224.5 C1262.1,224.7 1264.1,225.8 1270.0,224.9 C1275.9,224.0 1284.4,221.0 1291.0,219.6 C1297.6,218.2 1301.1,217.3 1306.8,217.2 C1312.5,217.1 1314.9,218.2 1322.5,219.1 C1330.1,220.0 1339.3,220.9 1348.8,222.2 C1358.3,223.5 1365.6,224.9 1375.1,226.2 C1384.5,227.5 1392.5,228.8 1401.3,229.6 C1410.1,230.4 1420.1,230.4 1424.2,230.6" fill="none" stroke="#c97b4c" stroke-width="1.25" stroke-linejoin="round"/>
<path d="M1027.0,443.7 C1029.2,443.6 1035.0,443.3 1039.5,443.0 C1044.0,442.7 1048.4,442.5 1052.0,441.8 C1055.6,441.1 1057.5,440.8 1059.5,439.3 C1061.5,437.8 1062.1,435.4 1063.2,433.7 C1064.3,432.0 1064.6,431.1 1065.7,430.0 C1066.8,428.9 1068.4,427.8 1069.5,427.4 C1070.6,427.0 1071.1,428.9 1072.0,428.0 C1072.9,427.1 1073.5,426.1 1074.4,422.4 C1075.3,418.7 1076.0,413.6 1076.9,407.5 C1077.8,401.4 1078.6,395.4 1079.4,388.7 C1080.2,381.9 1080.7,375.9 1081.3,370.0 C1081.9,364.1 1082.0,363.2 1082.6,356.2 C1083.2,349.2 1083.7,338.2 1084.4,331.2 C1085.1,324.2 1085.6,320.6 1086.3,317.5 C1087.0,314.4 1087.4,313.8 1088.2,313.7 C1089.0,313.6 1089.8,316.7 1090.7,316.9 C1091.6,317.1 1092.4,316.9 1093.2,315.0 C1094.0,313.1 1094.4,308.9 1095.0,306.2 C1095.6,303.5 1095.6,303.6 1096.3,300.0 C1097.0,296.4 1097.8,292.1 1098.8,286.2 C1099.8,280.3 1100.8,275.8 1101.9,267.5 C1103.0,259.2 1104.1,248.2 1105.0,240.0 C1105.9,231.8 1106.2,230.1 1107.0,222.0 C1107.8,213.9 1108.5,203.5 1109.4,195.0 C1110.3,186.5 1111.2,180.2 1111.9,175.0 C1112.6,169.8 1112.9,168.0 1113.5,166.0 C1114.1,164.0 1114.5,163.5 1115.0,163.7 C1115.5,163.9 1115.9,164.8 1116.5,167.0 C1117.1,169.2 1117.1,170.7 1118.1,176.2 C1119.1,181.7 1120.6,189.2 1121.9,197.5 C1123.2,205.8 1124.6,215.5 1125.6,222.4 C1126.6,229.3 1127.0,232.4 1127.5,236.0 C1128.0,239.6 1127.5,239.1 1128.1,242.5 C1128.7,245.9 1129.5,251.4 1130.6,255.0 C1131.7,258.6 1132.8,260.0 1134.4,262.5 C1136.0,265.0 1137.6,266.8 1139.4,268.7 C1141.2,270.6 1143.1,272.1 1144.4,273.1 C1145.8,274.1 1145.9,274.4 1146.9,274.3 C1147.9,274.2 1148.9,273.7 1150.0,272.5 C1151.1,271.3 1151.9,269.1 1153.1,267.5 C1154.3,265.9 1155.8,264.0 1156.9,263.7 C1158.0,263.4 1158.1,263.8 1159.4,265.6 C1160.7,267.4 1162.3,270.2 1164.3,273.7 C1166.3,277.2 1168.3,281.2 1170.6,285.0 C1172.8,288.8 1174.5,291.4 1176.8,295.0 C1179.0,298.6 1180.6,301.9 1183.1,305.0 C1185.6,308.1 1188.1,310.4 1190.6,312.5 C1193.1,314.6 1194.8,316.2 1196.8,316.9 C1198.8,317.6 1200.5,316.1 1201.8,316.2 C1203.1,316.3 1203.2,316.7 1204.3,317.5 C1205.4,318.3 1206.7,319.9 1208.0,320.6 C1209.3,321.3 1210.0,321.5 1211.8,321.2 C1213.6,320.9 1215.4,320.9 1218.0,318.7 C1220.6,316.5 1223.5,312.4 1226.0,309.0 C1228.5,305.6 1229.6,304.3 1232.0,300.0 C1234.4,295.7 1237.1,288.5 1239.3,285.0 C1241.5,281.5 1242.8,281.5 1244.3,280.6 C1245.8,279.7 1245.0,278.7 1247.4,280.0 C1249.8,281.3 1254.6,285.6 1257.9,287.9 C1261.2,290.2 1263.0,291.9 1265.8,292.6 C1268.6,293.3 1270.6,293.1 1273.7,291.8 C1276.8,290.5 1279.0,287.7 1283.1,285.3 C1287.2,282.9 1291.6,280.6 1296.3,278.7 C1301.0,276.8 1304.2,276.2 1309.4,274.8 C1314.6,273.4 1320.5,271.1 1325.2,270.8 C1329.9,270.5 1331.5,271.7 1335.7,272.9 C1339.9,274.1 1341.7,275.4 1348.8,277.4 C1355.9,279.4 1368.0,281.9 1375.1,284.0 C1382.2,286.1 1383.5,287.4 1388.2,289.2 C1392.9,291.0 1396.6,292.5 1401.3,293.9 C1406.0,295.3 1410.4,296.3 1414.5,297.1 C1418.6,297.9 1422.5,298.2 1424.2,298.4" fill="none" stroke="#3fa9dc" stroke-width="1.25" stroke-linejoin="round"/>
<path d="M1027.0,481.8 C1029.2,481.7 1035.0,481.5 1039.5,481.2 C1044.0,480.9 1048.4,480.8 1052.0,480.0 C1055.6,479.2 1057.2,478.4 1059.5,476.8 C1061.8,475.2 1062.9,473.2 1064.5,471.2 C1066.1,469.2 1067.1,467.0 1068.2,465.6 C1069.3,464.2 1069.8,464.3 1070.7,463.7 C1071.6,463.1 1072.4,463.9 1073.2,462.5 C1074.0,461.1 1074.4,459.1 1075.1,456.2 C1075.8,453.3 1076.3,449.1 1076.9,446.2 C1077.5,443.3 1077.3,447.4 1078.2,440.0 C1079.1,432.6 1080.7,417.1 1082.0,405.0 C1083.3,392.9 1084.5,382.0 1085.5,373.0 C1086.5,364.0 1086.8,359.3 1087.5,355.0 C1088.2,350.7 1088.7,349.8 1089.4,349.3 C1090.1,348.8 1090.8,351.2 1091.5,352.0 C1092.2,352.8 1092.8,354.4 1093.5,353.5 C1094.2,352.6 1094.9,349.9 1095.5,347.0 C1096.1,344.1 1096.1,345.4 1097.0,337.5 C1097.9,329.6 1099.6,313.4 1100.7,303.0 C1101.8,292.6 1102.3,288.6 1103.2,280.0 C1104.1,271.4 1104.8,263.1 1105.7,255.0 C1106.6,246.9 1107.4,240.0 1108.2,235.0 C1109.0,230.0 1109.3,228.1 1110.0,227.0 C1110.7,225.9 1111.2,227.6 1112.0,229.0 C1112.8,230.4 1113.1,231.7 1114.4,235.0 C1115.7,238.3 1117.8,242.8 1119.4,247.5 C1121.0,252.2 1121.8,256.5 1123.1,261.2 C1124.4,265.9 1125.6,269.4 1126.9,273.7 C1128.2,278.0 1129.0,281.4 1130.6,285.0 C1132.2,288.6 1133.8,291.2 1135.6,293.7 C1137.4,296.2 1139.1,297.6 1140.6,298.7 C1142.1,299.8 1142.6,300.1 1143.7,300.0 C1144.8,299.9 1146.0,298.7 1146.9,298.0 C1147.8,297.3 1147.8,295.8 1148.7,296.2 C1149.6,296.6 1150.2,297.8 1151.9,300.0 C1153.6,302.2 1155.9,306.0 1158.1,308.7 C1160.3,311.4 1160.9,312.4 1164.3,315.0 C1167.7,317.6 1173.2,319.7 1176.8,323.1 C1180.4,326.5 1181.6,329.8 1184.3,333.7 C1187.0,337.6 1189.3,342.0 1191.8,345.0 C1194.3,348.0 1196.1,349.7 1198.1,350.6 C1200.1,351.5 1201.4,349.4 1203.0,350.0 C1204.6,350.6 1205.2,352.6 1206.8,353.7 C1208.4,354.8 1209.5,356.2 1211.8,356.2 C1214.0,356.2 1216.6,355.3 1219.3,353.7 C1222.0,352.1 1224.3,349.9 1226.8,347.4 C1229.3,344.9 1230.8,342.4 1233.0,340.0 C1235.2,337.6 1236.8,335.8 1239.3,334.3 C1241.8,332.8 1243.6,332.4 1247.0,331.8 C1250.4,331.2 1253.9,331.4 1258.0,331.0 C1262.1,330.6 1265.5,330.7 1270.0,329.4 C1274.5,328.1 1278.4,326.0 1283.1,323.6 C1287.8,321.2 1292.0,318.4 1296.3,315.8 C1300.6,313.2 1303.3,311.1 1306.8,309.2 C1310.3,307.3 1311.8,305.4 1316.0,305.3 C1320.2,305.2 1324.5,306.5 1330.4,308.4 C1336.3,310.3 1340.8,312.8 1348.8,315.8 C1356.8,318.8 1366.6,322.3 1375.1,325.0 C1383.6,327.7 1389.5,329.6 1396.1,331.0 C1402.7,332.4 1406.7,332.7 1411.8,332.8 C1416.9,332.9 1422.0,331.7 1424.2,331.5" fill="none" stroke="#3aa878" stroke-width="1.25" stroke-linejoin="round"/>
<path d="M1027.0,492.4 C1029.2,492.2 1035.0,491.8 1039.5,491.4 C1044.0,491.0 1048.6,490.7 1052.0,490.0 C1055.4,489.3 1056.4,488.8 1058.2,487.4 C1060.0,486.0 1060.9,484.5 1062.0,482.5 C1063.1,480.5 1063.6,478.7 1064.5,476.2 C1065.4,473.7 1066.1,470.7 1067.0,468.7 C1067.9,466.7 1068.7,464.9 1069.5,465.0 C1070.3,465.1 1070.6,468.9 1071.3,469.3 C1072.0,469.8 1072.5,469.4 1073.2,467.5 C1073.9,465.6 1074.3,462.6 1075.1,458.7 C1075.9,454.8 1076.2,455.7 1077.5,446.0 C1078.8,436.3 1081.0,418.1 1082.5,405.0 C1084.0,391.9 1085.0,381.1 1086.0,373.0 C1087.0,364.9 1087.2,363.2 1087.8,360.0 C1088.4,356.8 1088.8,355.4 1089.4,355.0 C1090.0,354.6 1090.4,356.9 1091.0,357.5 C1091.6,358.1 1092.2,359.9 1093.0,358.5 C1093.8,357.1 1094.6,353.9 1095.5,350.0 C1096.4,346.1 1096.7,344.9 1098.0,337.0 C1099.3,329.1 1101.6,312.7 1102.5,306.0 C1103.4,299.3 1102.6,304.7 1103.2,300.0 C1103.8,295.3 1104.8,286.8 1105.7,280.0 C1106.6,273.2 1107.3,266.7 1108.2,262.5 C1109.1,258.3 1109.6,257.0 1110.7,256.8 C1111.8,256.6 1112.8,258.8 1114.4,261.2 C1116.0,263.6 1117.6,266.2 1119.4,270.0 C1121.2,273.8 1122.8,278.4 1124.4,282.4 C1126.0,286.4 1126.8,289.0 1128.1,292.4 C1129.4,295.8 1130.8,298.5 1131.9,301.2 C1133.0,303.9 1133.3,305.5 1134.4,307.5 C1135.5,309.5 1136.5,311.9 1138.1,312.5 C1139.7,313.1 1141.3,311.5 1143.1,310.6 C1144.9,309.7 1146.5,307.4 1148.1,307.5 C1149.7,307.6 1150.1,308.7 1151.9,311.2 C1153.7,313.7 1155.9,318.1 1158.1,321.2 C1160.3,324.3 1160.9,325.8 1164.3,328.7 C1167.7,331.6 1173.2,334.4 1176.8,337.5 C1180.4,340.6 1181.6,343.3 1184.3,346.2 C1187.0,349.1 1189.3,351.7 1191.8,353.7 C1194.3,355.7 1196.1,357.2 1198.1,357.4 C1200.1,357.6 1201.4,354.7 1203.0,355.0 C1204.6,355.3 1205.2,358.1 1206.8,359.3 C1208.4,360.5 1209.5,361.9 1211.8,361.8 C1214.0,361.7 1216.6,360.4 1219.3,358.7 C1222.0,357.0 1224.3,354.6 1226.8,352.4 C1229.3,350.1 1230.8,348.2 1233.0,346.2 C1235.2,344.2 1236.8,342.3 1239.3,341.2 C1241.8,340.1 1243.6,340.3 1247.0,340.0 C1250.4,339.7 1253.9,339.8 1258.0,339.5 C1262.1,339.2 1265.5,339.3 1270.0,338.1 C1274.5,336.9 1278.4,334.9 1283.1,332.8 C1287.8,330.7 1292.0,328.4 1296.3,326.3 C1300.6,324.2 1303.3,322.3 1306.8,321.0 C1310.3,319.7 1311.8,318.9 1316.0,318.9 C1320.2,318.9 1324.5,319.6 1330.4,321.0 C1336.3,322.4 1340.8,324.4 1348.8,326.8 C1356.8,329.2 1366.6,331.8 1375.1,334.1 C1383.6,336.4 1389.5,338.2 1396.1,339.4 C1402.7,340.6 1406.7,340.7 1411.8,340.7 C1416.9,340.7 1422.0,339.6 1424.2,339.4" fill="none" stroke="#3aa878" stroke-width="1.25" stroke-linejoin="round"/>
<path d="M1027.0,513.0 C1029.2,512.9 1035.0,512.7 1039.5,512.2 C1044.0,511.7 1048.6,511.1 1052.0,510.0 C1055.4,508.9 1056.4,508.0 1058.2,506.2 C1060.0,504.4 1060.7,502.0 1062.0,500.0 C1063.3,498.0 1064.4,496.6 1065.7,495.0 C1067.0,493.4 1068.4,492.3 1069.5,491.2 C1070.6,490.1 1071.2,490.5 1072.0,488.7 C1072.8,486.9 1073.1,485.5 1073.8,481.2 C1074.5,476.9 1074.9,471.3 1075.7,465.0 C1076.5,458.7 1077.5,450.7 1078.2,446.2 C1078.9,441.7 1078.5,446.5 1079.4,440.0 C1080.3,433.5 1081.8,419.9 1083.0,410.0 C1084.2,400.1 1085.1,391.8 1086.0,385.0 C1086.9,378.2 1087.2,375.4 1088.0,372.0 C1088.8,368.6 1089.6,367.8 1090.5,366.0 C1091.4,364.2 1092.1,364.5 1093.0,362.0 C1093.9,359.5 1094.6,356.9 1095.5,352.0 C1096.4,347.1 1097.0,342.2 1098.0,335.0 C1099.0,327.8 1099.9,319.4 1101.0,312.0 C1102.1,304.6 1103.0,298.9 1104.0,294.0 C1105.0,289.1 1105.6,286.7 1106.5,284.5 C1107.4,282.3 1108.0,281.7 1108.8,281.8 C1109.6,281.9 1110.1,283.3 1111.0,285.0 C1111.9,286.7 1112.5,288.3 1114.0,291.0 C1115.5,293.7 1117.5,297.0 1119.4,300.0 C1121.3,303.0 1122.6,303.4 1124.4,307.5 C1126.2,311.6 1127.6,318.2 1129.4,322.5 C1131.2,326.8 1132.6,329.3 1134.4,331.2 C1136.2,333.1 1137.6,333.0 1139.4,333.1 C1141.2,333.2 1142.8,331.7 1144.4,331.8 C1146.0,331.9 1146.3,332.2 1148.1,333.7 C1149.9,335.2 1151.9,337.8 1154.4,340.0 C1156.9,342.2 1159.0,344.4 1161.9,346.2 C1164.8,348.0 1167.9,348.4 1170.6,350.0 C1173.3,351.6 1174.5,352.3 1176.8,355.0 C1179.0,357.7 1181.1,361.9 1183.1,365.0 C1185.1,368.1 1186.1,370.2 1188.1,372.0 C1190.1,373.8 1192.3,374.4 1194.3,375.0 C1196.3,375.6 1197.7,375.7 1199.3,375.6 C1200.9,375.5 1201.7,374.4 1203.0,374.7 C1204.3,375.0 1205.2,376.8 1206.8,377.5 C1208.4,378.2 1209.8,378.9 1211.8,378.7 C1213.8,378.5 1215.3,377.8 1218.0,376.2 C1220.7,374.6 1223.4,372.5 1226.8,370.0 C1230.2,367.5 1234.1,364.1 1236.8,362.4 C1239.5,360.7 1240.0,361.1 1241.8,360.6 C1243.6,360.1 1244.1,359.9 1247.0,359.5 C1249.9,359.1 1253.9,359.0 1258.0,358.5 C1262.1,358.0 1265.0,358.0 1270.0,356.5 C1275.0,355.0 1280.1,351.9 1285.8,349.9 C1291.5,347.9 1296.1,346.4 1301.5,345.2 C1306.9,344.0 1310.8,343.2 1316.0,343.3 C1321.2,343.4 1324.5,344.6 1330.4,346.0 C1336.3,347.4 1340.8,349.1 1348.8,351.2 C1356.8,353.3 1366.6,355.9 1375.1,357.8 C1383.6,359.7 1387.3,360.9 1396.1,361.7 C1404.9,362.5 1419.1,362.2 1424.2,362.3" fill="none" stroke="#333333" stroke-width="1.25" stroke-linejoin="round"/>
<path d="M1027.0,523.1 C1029.2,522.9 1035.0,522.7 1039.5,522.2 C1044.0,521.8 1048.6,521.3 1052.0,520.6 C1055.4,519.9 1056.4,519.3 1058.2,518.1 C1060.0,516.9 1060.9,515.3 1062.0,513.7 C1063.1,512.1 1063.4,510.6 1064.5,509.4 C1065.6,508.2 1066.9,508.1 1068.2,506.9 C1069.5,505.7 1071.0,503.7 1072.0,502.5 C1073.0,501.3 1073.1,503.1 1073.8,500.0 C1074.5,496.9 1075.1,492.2 1076.0,485.0 C1076.9,477.8 1077.7,470.8 1079.0,460.0 C1080.3,449.2 1081.7,436.7 1083.0,425.0 C1084.3,413.3 1085.4,402.9 1086.5,395.0 C1087.6,387.1 1088.1,384.4 1089.0,381.0 C1089.9,377.6 1090.6,377.6 1091.5,376.0 C1092.4,374.4 1093.1,374.9 1094.0,372.0 C1094.9,369.1 1095.6,365.8 1096.5,360.0 C1097.4,354.2 1098.0,347.9 1099.0,340.0 C1100.0,332.1 1100.9,323.4 1102.0,316.0 C1103.1,308.6 1104.1,303.7 1105.0,299.0 C1105.9,294.3 1106.3,292.1 1107.0,290.0 C1107.7,287.9 1108.1,287.3 1108.8,287.5 C1109.5,287.7 1109.8,288.8 1111.0,291.0 C1112.2,293.2 1113.7,296.1 1115.7,300.0 C1117.7,303.9 1119.9,308.0 1121.9,312.5 C1123.9,317.0 1124.9,321.2 1126.9,325.0 C1128.9,328.8 1131.1,331.7 1133.1,333.7 C1135.1,335.7 1136.1,336.0 1138.1,336.2 C1140.1,336.4 1142.4,334.6 1144.4,335.0 C1146.4,335.4 1147.2,336.5 1149.4,338.7 C1151.7,340.9 1154.2,344.9 1156.9,347.4 C1159.6,349.9 1161.6,351.0 1164.3,352.4 C1167.0,353.8 1169.5,353.9 1171.8,355.0 C1174.0,356.1 1175.0,356.5 1176.8,358.7 C1178.6,360.9 1180.2,364.8 1181.8,367.4 C1183.4,370.0 1184.0,370.7 1185.6,373.0 C1187.2,375.3 1188.8,377.7 1190.6,380.0 C1192.4,382.3 1193.8,384.6 1195.6,385.6 C1197.4,386.6 1199.3,385.7 1200.6,385.6 C1201.9,385.5 1201.9,384.4 1203.0,385.0 C1204.1,385.6 1205.2,387.6 1206.8,388.7 C1208.4,389.8 1209.5,391.2 1211.8,391.2 C1214.0,391.2 1216.6,390.3 1219.3,388.7 C1222.0,387.1 1224.3,384.8 1226.8,382.5 C1229.3,380.2 1230.8,378.0 1233.0,376.2 C1235.2,374.4 1236.8,373.4 1239.3,372.5 C1241.8,371.6 1243.6,371.7 1247.0,371.0 C1250.4,370.3 1253.9,369.7 1258.0,368.5 C1262.1,367.3 1265.0,366.6 1270.0,364.4 C1275.0,362.2 1280.1,359.0 1285.8,356.5 C1291.5,354.0 1296.1,351.9 1301.5,350.4 C1306.9,348.9 1310.8,348.0 1316.0,348.1 C1321.2,348.2 1324.5,349.2 1330.4,350.7 C1336.3,352.2 1340.8,354.0 1348.8,356.5 C1356.8,359.0 1366.6,362.0 1375.1,364.4 C1383.6,366.8 1387.3,368.2 1396.1,369.6 C1404.9,371.0 1419.1,371.7 1424.2,372.2" fill="none" stroke="#333333" stroke-width="1.25" stroke-linejoin="round"/>
<path d="M1027.0,529.3 C1029.2,529.1 1035.0,528.7 1039.5,528.1 C1044.0,527.5 1048.6,527.1 1052.0,526.2 C1055.4,525.3 1056.4,524.7 1058.2,523.1 C1060.0,521.5 1060.9,519.3 1062.0,517.5 C1063.1,515.7 1063.4,514.3 1064.5,513.1 C1065.6,511.9 1066.9,512.1 1068.2,510.6 C1069.5,509.1 1070.9,506.9 1072.0,505.0 C1073.1,503.1 1073.6,503.2 1074.4,500.0 C1075.2,496.8 1075.6,493.8 1076.5,487.0 C1077.4,480.2 1078.2,472.6 1079.5,462.0 C1080.8,451.4 1082.2,439.2 1083.5,428.0 C1084.8,416.8 1085.9,406.8 1087.0,400.0 C1088.1,393.2 1088.6,392.5 1089.5,390.0 C1090.4,387.5 1091.1,387.6 1092.0,386.0 C1092.9,384.4 1093.6,384.2 1094.5,381.0 C1095.4,377.8 1096.1,374.1 1097.0,368.0 C1097.9,361.9 1098.5,355.3 1099.5,347.0 C1100.5,338.7 1101.4,329.7 1102.5,322.0 C1103.6,314.3 1104.6,308.6 1105.5,304.0 C1106.4,299.4 1106.7,298.3 1107.3,296.5 C1107.9,294.7 1108.2,294.1 1108.8,294.0 C1109.4,293.9 1109.9,294.9 1110.5,296.0 C1111.1,297.1 1110.7,297.0 1111.9,300.0 C1113.1,303.0 1115.1,308.0 1116.9,312.5 C1118.7,317.0 1120.1,320.9 1121.9,325.0 C1123.7,329.1 1125.1,331.6 1126.9,335.0 C1128.7,338.4 1130.1,341.6 1131.9,343.7 C1133.7,345.8 1134.7,346.8 1136.9,346.8 C1139.2,346.8 1142.2,343.6 1144.4,343.7 C1146.7,343.8 1147.2,345.1 1149.4,347.4 C1151.7,349.6 1154.2,353.5 1156.9,356.2 C1159.6,358.9 1161.6,360.6 1164.3,362.4 C1167.0,364.2 1169.5,364.8 1171.8,366.2 C1174.0,367.6 1175.2,368.4 1176.8,370.0 C1178.4,371.6 1179.5,373.6 1180.6,375.0 C1181.7,376.4 1181.8,375.5 1183.1,377.5 C1184.4,379.5 1186.1,383.5 1188.1,386.2 C1190.1,388.9 1192.0,391.5 1194.3,392.5 C1196.5,393.5 1199.0,392.1 1200.6,391.8 C1202.2,391.5 1201.9,390.3 1203.0,390.6 C1204.1,390.9 1205.2,392.8 1206.8,393.7 C1208.4,394.6 1209.5,395.9 1211.8,395.6 C1214.0,395.3 1216.6,393.6 1219.3,391.8 C1222.0,390.0 1224.3,387.8 1226.8,385.6 C1229.3,383.4 1230.8,381.3 1233.0,379.4 C1235.2,377.5 1236.8,375.9 1239.3,375.0 C1241.8,374.1 1243.6,374.8 1247.0,374.4 C1250.4,374.0 1253.9,373.6 1258.0,373.0 C1262.1,372.4 1265.0,372.4 1270.0,370.9 C1275.0,369.4 1280.1,366.5 1285.8,364.4 C1291.5,362.3 1296.1,360.5 1301.5,359.1 C1306.9,357.7 1310.8,356.5 1316.0,356.5 C1321.2,356.5 1324.5,357.7 1330.4,359.1 C1336.3,360.5 1340.8,362.3 1348.8,364.4 C1356.8,366.5 1366.6,368.9 1375.1,370.9 C1383.6,372.9 1389.0,374.3 1396.1,375.6 C1403.2,376.9 1409.4,377.5 1414.5,378.0 C1419.6,378.5 1422.5,378.2 1424.2,378.3" fill="none" stroke="#333333" stroke-width="1.25" stroke-linejoin="round"/>
<path d="M1027.0,545.6 C1029.2,545.4 1035.0,544.8 1039.5,544.3 C1044.0,543.8 1048.6,543.8 1052.0,543.1 C1055.4,542.4 1056.4,541.8 1058.2,540.6 C1060.0,539.4 1060.9,537.7 1062.0,536.2 C1063.1,534.7 1063.4,533.7 1064.5,532.5 C1065.6,531.3 1066.9,530.5 1068.2,529.3 C1069.5,528.1 1070.9,527.5 1072.0,525.6 C1073.1,523.7 1073.6,523.3 1074.4,518.7 C1075.2,514.1 1075.5,507.9 1076.3,500.0 C1077.1,492.1 1077.9,484.7 1079.0,475.0 C1080.1,465.3 1081.4,454.1 1082.6,446.0 C1083.8,437.9 1084.6,435.8 1085.7,430.0 C1086.8,424.2 1087.7,418.2 1088.8,413.7 C1089.9,409.2 1090.7,408.4 1091.9,405.0 C1093.1,401.6 1094.6,399.1 1095.7,395.0 C1096.8,390.9 1097.5,387.0 1098.2,382.5 C1098.9,378.0 1098.8,376.8 1099.4,370.0 C1100.0,363.2 1100.7,353.6 1101.5,345.0 C1102.3,336.4 1103.1,328.3 1104.0,322.0 C1104.9,315.7 1105.6,312.8 1106.5,310.0 C1107.4,307.2 1108.0,306.0 1108.8,306.2 C1109.6,306.4 1110.0,308.3 1111.0,311.0 C1112.0,313.7 1112.7,318.5 1114.4,321.2 C1116.1,323.9 1118.6,322.6 1120.6,326.2 C1122.6,329.8 1123.8,336.5 1125.6,341.2 C1127.4,345.9 1128.8,349.1 1130.6,352.4 C1132.4,355.7 1133.9,358.0 1135.6,359.3 C1137.3,360.6 1138.4,359.8 1140.0,359.5 C1141.6,359.2 1142.5,356.6 1144.4,357.4 C1146.3,358.2 1148.3,361.2 1150.6,363.7 C1152.8,366.2 1155.1,368.9 1156.9,371.2 C1158.7,373.4 1158.4,374.7 1160.6,376.2 C1162.8,377.7 1166.4,378.0 1169.3,379.4 C1172.2,380.8 1174.3,381.1 1176.8,383.7 C1179.3,386.3 1180.8,390.1 1183.1,393.7 C1185.3,397.3 1187.3,401.0 1189.3,403.7 C1191.3,406.4 1192.3,408.0 1194.3,408.7 C1196.3,409.4 1199.0,407.8 1200.6,407.5 C1202.2,407.2 1201.9,406.1 1203.0,406.8 C1204.1,407.5 1205.2,410.1 1206.8,411.2 C1208.4,412.3 1209.5,413.3 1211.8,413.1 C1214.0,412.9 1216.6,411.7 1219.3,410.0 C1222.0,408.3 1224.3,405.9 1226.8,403.7 C1229.3,401.4 1230.8,399.3 1233.0,397.5 C1235.2,395.7 1236.8,394.6 1239.3,393.7 C1241.8,392.8 1243.6,392.8 1247.0,392.5 C1250.4,392.2 1253.9,392.3 1258.0,392.0 C1262.1,391.7 1265.0,392.5 1270.0,390.6 C1275.0,388.7 1280.1,384.5 1285.8,381.4 C1291.5,378.3 1296.8,375.5 1301.5,373.6 C1306.2,371.7 1306.8,370.7 1312.0,370.9 C1317.2,371.1 1323.8,373.2 1330.4,374.9 C1337.0,376.6 1340.8,377.7 1348.8,380.1 C1356.8,382.5 1366.6,385.9 1375.1,388.0 C1383.6,390.1 1387.3,390.9 1396.1,391.9 C1404.9,392.9 1419.1,393.0 1424.2,393.3" fill="none" stroke="#333333" stroke-width="1.25" stroke-linejoin="round"/>
<path d="M1113.5,26 V150 L1115.4,156 V207.5 L1109.4,215.6 V418 M1109.4,449.4 V544" stroke="#111" stroke-width="1.1" fill="none" stroke-dasharray="3.7 1.8"/>
<path d="M1121.3,215.6 V370 M1121.3,406.5 V544" stroke="#111" stroke-width="1.1" fill="none" stroke-dasharray="3.7 1.8"/>
<path d="M1157.5,254.3 V275.6 L1148.7,286.2 V311 L1145.6,313.5 V460.4 M1145.6,493 V544" stroke="#111" stroke-width="1.1" fill="none" stroke-dasharray="3.7 1.8"/>
<path d="M1171.8,115.6 V207.5 L1177.6,217.5 V482.5 M1177.6,515.3 V544" stroke="#111" stroke-width="1.1" fill="none" stroke-dasharray="3.7 1.8"/>
<path d="M1242.7,119.5 V258.7 L1247.2,262.5 V308.7 L1239.5,316 V482.5 M1239.5,515.3 V544" stroke="#111" stroke-width="1.1" fill="none" stroke-dasharray="3.7 1.8"/>
<path d="M1308.6,106.4 V244 L1329,250 V278.7 L1315.5,293 V481.5 M1315.5,514.5 V544" stroke="#111" stroke-width="1.1" fill="none" stroke-dasharray="3.7 1.8"/>
<path d="M1027.5,19.05 H1424.05 V546.25" fill="none" stroke="#555" stroke-width="1.9" stroke-linejoin="round"/>
<path d="M1027.5,18.2 V552.2 M1027,546.25 H1425" fill="none" stroke="#0a0a0a" stroke-width="1.05"/>
<path d="M1027.3,546.2 v6 M1040.5,546.2 v5 M1053.8,546.2 v5 M1067.0,546.2 v5 M1080.2,546.2 v5 M1093.5,546.2 v6 M1106.7,546.2 v5 M1119.9,546.2 v5 M1133.1,546.2 v5 M1146.4,546.2 v5 M1159.6,546.2 v6 M1172.8,546.2 v5 M1186.1,546.2 v5 M1199.3,546.2 v5 M1212.5,546.2 v5 M1225.8,546.2 v6 M1239.0,546.2 v5 M1252.2,546.2 v5 M1265.4,546.2 v5 M1278.7,546.2 v5 M1291.9,546.2 v6 M1305.1,546.2 v5 M1318.4,546.2 v5 M1331.6,546.2 v5 M1344.8,546.2 v5 M1358.0,546.2 v6 M1371.3,546.2 v5 M1384.5,546.2 v5 M1397.7,546.2 v5 M1411.0,546.2 v5 M1424.2,546.2 v6" stroke="#1a1a1a" stroke-width="0.9" fill="none"/>
<text x="1027.3" y="573.5" font-size="17.6" text-anchor="middle" font-family="Liberation Sans, sans-serif" fill="#111">4030</text>
<text x="1093.5" y="573.5" font-size="17.6" text-anchor="middle" font-family="Liberation Sans, sans-serif" fill="#111">4045</text>
<text x="1159.6" y="573.5" font-size="17.6" text-anchor="middle" font-family="Liberation Sans, sans-serif" fill="#111">4060</text>
<text x="1225.8" y="573.5" font-size="17.6" text-anchor="middle" font-family="Liberation Sans, sans-serif" fill="#111">4075</text>
<text x="1291.9" y="573.5" font-size="17.6" text-anchor="middle" font-family="Liberation Sans, sans-serif" fill="#111">4090</text>
<text x="1358.0" y="573.5" font-size="17.6" text-anchor="middle" font-family="Liberation Sans, sans-serif" fill="#111">4105</text>
<text x="1424.2" y="573.5" font-size="17.6" text-anchor="middle" font-family="Liberation Sans, sans-serif" fill="#111">4120</text>
<text x="1226" y="598.8" font-size="17.8" text-anchor="middle" font-family="Liberation Sans, sans-serif" fill="#111">Energy (eV)</text>
<text transform="translate(1021.5,283.5) rotate(-90)" font-size="17.6" text-anchor="middle" font-family="Liberation Sans, sans-serif" fill="#111">Intensity (a.u.)</text>
<text x="999.5" y="19.5" font-size="17.6" font-weight="bold" font-family="Liberation Sans, sans-serif" fill="#111">(b)</text>
<text x="1428" y="138.4" font-size="15.5" font-family="Liberation Sans, sans-serif" fill="#111">CSH*</text>
<text x="1428" y="162.3" font-size="15.5" font-family="Liberation Sans, sans-serif" fill="#111">N1_pt6</text>
<text x="1428" y="180.7" font-size="15.5" font-family="Liberation Sans, sans-serif" fill="#111">N1_pt5</text>
<text x="1430" y="200" font-size="15.5" font-family="Liberation Sans, sans-serif" fill="#111">ES2_pt7</text>
<text x="1428" y="234" font-size="15.5" font-family="Liberation Sans, sans-serif" fill="#111">K_CSH</text>
<text x="1428" y="298" font-size="15.5" font-family="Liberation Sans, sans-serif" fill="#111">mountainite</text>
<text x="1428" y="332" font-size="15.5" font-family="Liberation Sans, sans-serif" fill="#111">SKC</text>
<text x="1428" y="348.6" font-size="15.5" font-family="Liberation Sans, sans-serif" fill="#111">shlykovite</text>
<text x="1428" y="368.3" font-size="15.5" font-family="Liberation Sans, sans-serif" fill="#111">ES2_pt3</text>
<text x="1430" y="385.4" font-size="15.5" font-family="Liberation Sans, sans-serif" fill="#111">N1_pt2</text>
<text x="1430" y="406.4" font-size="15.5" font-family="Liberation Sans, sans-serif" fill="#111">ES1_pt1</text>
<text x="1430" y="425.3" font-size="15.5" font-family="Liberation Sans, sans-serif" fill="#111">Mels1_pt1</text>
<path d="M1423.7,369 V373" stroke="#111" stroke-width="1.2"/><path d="M1420.3,371.5 L1427.2,371.5 L1423.8,378 Z" fill="#111"/>
<path d="M1430,396 L1417,381.5" stroke="#111" stroke-width="1.3"/><path d="M1413.5,378 L1420.8,380.5 L1416.6,384.6 Z" fill="#111"/>
<path d="M1429,414 L1413.5,398.5" stroke="#111" stroke-width="1.3"/><path d="M1409.5,394.8 L1416.9,397.2 L1412.7,401.4 Z" fill="#111"/>
<text x="1088.9" y="108" font-size="17.6" text-anchor="middle" font-family="Liberation Sans, sans-serif" fill="#111">B</text>
<text x="1203.4" y="111.6" font-size="17.6" text-anchor="middle" font-family="Liberation Sans, sans-serif" fill="#111">F</text>
<text x="1066" y="198.6" font-size="17.6" text-anchor="middle" font-family="Liberation Sans, sans-serif" fill="#111">A</text>
<text x="1125" y="395" font-size="17.6" text-anchor="middle" font-family="Liberation Sans, sans-serif" fill="#111">C’</text>
<text x="1109.2" y="439.2" font-size="17.6" text-anchor="middle" font-family="Liberation Sans, sans-serif" fill="#111">C</text>
<text x="1147" y="482.6" font-size="17.6" text-anchor="middle" font-family="Liberation Sans, sans-serif" fill="#111">D</text>
<text x="1176.2" y="504.8" font-size="17.6" text-anchor="middle" font-family="Liberation Sans, sans-serif" fill="#111">E</text>
<text x="1239.2" y="504.8" font-size="17.6" text-anchor="middle" font-family="Liberation Sans, sans-serif" fill="#111">G</text>
<text x="1315.6" y="504.8" font-size="17.6" text-anchor="middle" font-family="Liberation Sans, sans-serif" fill="#111">H</text>
<path d="M1089.3,113.5 V125" stroke="#111" stroke-width="1.6"/><path d="M1085.5,123.5 L1093.1,123.5 L1089.3,130 Z" fill="#111"/>
<path d="M1203.3,118.7 V130.3" stroke="#111" stroke-width="1.6"/><path d="M1199.5,128.8 L1207.1,128.8 L1203.3,135.3 Z" fill="#111"/>
<path d="M1066.4,206.5 V218" stroke="#111" stroke-width="1.6"/><path d="M1062.6000000000001,216.5 L1070.2,216.5 L1066.4,223 Z" fill="#111"/>
</g>
<defs>
<radialGradient id="gO" cx="0.4" cy="0.35" r="0.7"><stop offset="0" stop-color="#ff8a78"/><stop offset="0.35" stop-color="#f02418"/><stop offset="1" stop-color="#a80000"/></radialGradient>
<radialGradient id="gB" cx="0.5" cy="0.45" r="0.6"><stop offset="0" stop-color="#c8c8c8"/><stop offset="0.22" stop-color="#3a3a3a"/><stop offset="1" stop-color="#000"/></radialGradient>
<radialGradient id="gP" cx="0.55" cy="0.6" r="0.65"><stop offset="0" stop-color="#ffe8ff"/><stop offset="0.3" stop-color="#c455f0"/><stop offset="1" stop-color="#8a28c8"/></radialGradient>
<radialGradient id="gY" cx="0.55" cy="0.6" r="0.65"><stop offset="0" stop-color="#fff6c0"/><stop offset="0.4" stop-color="#e6c845"/><stop offset="1" stop-color="#b89a28"/></radialGradient>
<radialGradient id="gK" cx="0.52" cy="0.5" r="0.55"><stop offset="0" stop-color="#f2fbff"/><stop offset="0.3" stop-color="#7fb4d4"/><stop offset="0.8" stop-color="#5a90b2"/><stop offset="1" stop-color="#3f6f8f"/></radialGradient>
<linearGradient id="gT" x1="0" y1="0" x2="1" y2="1"><stop offset="0" stop-color="#4a68e0"/><stop offset="1" stop-color="#2440c4"/></linearGradient>
<linearGradient id="gT2" x1="0" y1="0" x2="1" y2="0"><stop offset="0" stop-color="#2a44c8"/><stop offset="1" stop-color="#4866dc"/></linearGradient>
</defs>
<defs><radialGradient id="gHi" cx="0.55" cy="0.6" r="0.4"><stop offset="0" stop-color="#fff" stop-opacity="0.9"/><stop offset="0.5" stop-color="#fff" stop-opacity="0.15"/><stop offset="1" stop-color="#fff" stop-opacity="0"/></radialGradient></defs>
<g id="crystal">
<g id="layA"><polygon points="1589,102 1573.5,129 1580,135.5 1604,139.8 1611.5,135.5" fill="url(#gT)"/><polygon points="1589,102 1592.5,137.8 1573.5,129" fill="#3350cc" opacity="0.8"/><polygon points="1628,150 1652.5,151.5 1657,160 1633,185 1625.5,164" fill="url(#gT2)"/><polygon points="1655,151 1675,147 1696,136.5 1702.5,175.5 1696,182 1659,158" fill="url(#gT)"/><path d="M1657,153 L1699,178" stroke="#b8c4f4" stroke-width="0.9" fill="none"/><circle cx="1681" cy="156" r="1.3" fill="#a8c8ff"/><circle cx="1620" cy="147" r="16" fill="url(#gP)"/><path d="M1620,147 L1621.4,131.1 A16,16 0 0 0 1605.0,152.5 Z" fill="#e3c548"/><circle cx="1620" cy="147" r="16" fill="url(#gHi)"/><circle cx="1590.1" cy="97.7" r="5" fill="url(#gO)"/><circle cx="1620.4" cy="106.7" r="5" fill="url(#gB)"/><circle cx="1571.3" cy="132.7" r="5" fill="url(#gO)"/><circle cx="1578.2" cy="135.6" r="4.5" fill="url(#gO)"/><circle cx="1655.8" cy="160.5" r="4.7" fill="url(#gO)"/><circle cx="1653.7" cy="150.5" r="5" fill="url(#gO)"/><circle cx="1689.3" cy="132.4" r="5" fill="url(#gO)"/><circle cx="1696.8" cy="134.7" r="5" fill="url(#gO)"/><circle cx="1695.6" cy="181.2" r="5" fill="url(#gO)"/><circle cx="1703" cy="178" r="5" fill="url(#gO)"/><circle cx="1625" cy="189" r="5" fill="url(#gB)"/><circle cx="1633" cy="186.2" r="4.6" fill="url(#gO)"/><circle cx="1611.7" cy="185.6" r="5" fill="url(#gB)"/><circle cx="1632.1" cy="195" r="5" fill="url(#gB)"/><circle cx="1596.7" cy="202.2" r="13.7" fill="url(#gK)"/><circle cx="1711" cy="208.5" r="13.7" fill="url(#gK)"/><circle cx="1675.2" cy="216.3" r="5" fill="url(#gB)"/><circle cx="1682" cy="222.4" r="5" fill="url(#gB)"/><circle cx="1695.8" cy="225.2" r="5" fill="url(#gB)"/></g>
<g id="layB"><circle cx="1689" cy="263" r="15.5" fill="url(#gP)"/><path d="M1689,263 L1687.5,247.6 A15.5,15.5 0 0 0 1676,255 Z" fill="#d8c060"/><polygon points="1605.5,234 1650,250 1652,259.5 1632.5,265 1618,279 1611,277 1610,262" fill="url(#gT)"/><polygon points="1605.5,234 1632.5,265 1618,279 1611,277 1610,262" fill="#2a44c6"/><path d="M1605.5,234 L1632.5,264.5 M1605.5,234 L1618,278 M1632.5,264.5 L1651,252" stroke="#b8c4f4" stroke-width="0.9" fill="none"/><polygon points="1673.5,227.5 1653,251.5 1655,259.5 1690.5,270 1686,252" fill="url(#gT)"/><polygon points="1653,253 1655,259.5 1690.5,270" fill="#1c2f9a"/><path d="M1655,254 L1690.5,269.5" stroke="#b8c4f4" stroke-width="0.9" fill="none"/><polygon points="1693.5,271 1735,279.5 1717.6,310" fill="url(#gT)"/><circle cx="1604.4" cy="232.9" r="5" fill="url(#gO)"/><circle cx="1611.7" cy="229.7" r="5" fill="url(#gO)"/><circle cx="1674.6" cy="224.6" r="5" fill="url(#gO)"/><circle cx="1652.9" cy="261.4" r="4.8" fill="url(#gO)"/><circle cx="1651.7" cy="250" r="5" fill="url(#gO)"/><circle cx="1632.5" cy="264.1" r="5" fill="url(#gO)"/><circle cx="1610.7" cy="277.2" r="5" fill="url(#gO)"/><circle cx="1617.9" cy="279" r="5" fill="url(#gO)"/><circle cx="1691.4" cy="270.2" r="5" fill="url(#gO)"/><circle cx="1729.3" cy="276.2" r="5" fill="url(#gO)"/><circle cx="1736.6" cy="278.4" r="5" fill="url(#gO)"/><circle cx="1717.4" cy="313.6" r="5" fill="url(#gO)"/><circle cx="1686.8" cy="305" r="5" fill="url(#gB)"/></g>
<use href="#layA" transform="translate(17.6,217.6)"/>
<path d="M1692.5,364.9 L1712,354 M1692.5,364.9 L1716,395 M1692.5,364.9 L1672,367 M1671.5,368 L1651,402" stroke="#b8c4f4" stroke-width="0.9" fill="none"/>
<circle cx="1692.5" cy="364.9" r="5" fill="url(#gO)"/>
<circle cx="1671.2" cy="367.6" r="5" fill="url(#gO)"/>
<use href="#layB" transform="translate(17.6,217.6)"/>
<path d="M1594,97.5 H1701 Q1704.5,97.5 1704.8,101 L1737.3,531.2 H1620.7 L1588.6,101" fill="none" stroke="#1a1a1a" stroke-width="1.9" stroke-dasharray="7 6.2"/>
<circle cx="1590.1" cy="97.7" r="5" fill="url(#gO)"/>
<circle cx="1607.7" cy="315.3" r="5" fill="url(#gO)"/>
<circle cx="1717.4" cy="313.6" r="5" fill="url(#gO)"/>
<circle cx="1735" cy="531.2" r="5" fill="url(#gO)"/>
<path d="M1597.2,533.6 A32,32 0 0 0 1573.4,558.5" fill="none" stroke="#222" stroke-width="1.1"/>
<path d="M1596,565.2 H1557" stroke="#d40000" stroke-width="5.6"/><path d="M1596,565.2 H1557" stroke="#ff9a9a" stroke-width="1.2"/>
<path d="M1536.5,565 L1558.5,556.3 L1558.5,573.6 Z" fill="#e00000"/>
<path d="M1604,563 L1600.8,519" stroke="#0000d8" stroke-width="5.6"/><path d="M1604,563 L1600.8,519" stroke="#a0a0ff" stroke-width="1.2"/>
<path d="M1598.5,499.4 L1591.8,521 L1608.6,520 Z" fill="#0000e0"/>
<circle cx="1604" cy="565.5" r="7.9" fill="#0a8a14"/>
<text x="1523.3" y="528.5" font-size="17.4" font-family="Liberation Sans, sans-serif" fill="#111">85.4°</text>
<text x="1586.4" y="487.8" font-size="17.4" font-family="Liberation Sans, sans-serif" fill="#111">c</text>
<text x="1599.6" y="587.8" font-size="17.4" font-family="Liberation Sans, sans-serif" fill="#111">b</text>
<text x="1642.2" y="62.5" font-size="17.8" text-anchor="middle" font-family="Liberation Sans, sans-serif" fill="#111">field ASR crystal</text>
<text x="1514.5" y="19.5" font-size="17.6" font-weight="bold" font-family="Liberation Sans, sans-serif" fill="#111">(c)</text>
</g>
<rect x="410" y="607" width="34" height="3" fill="#e6e6e6"/><rect x="1685" y="606.6" width="78" height="3" fill="#e6e6e6"/>
</svg></body></html>
